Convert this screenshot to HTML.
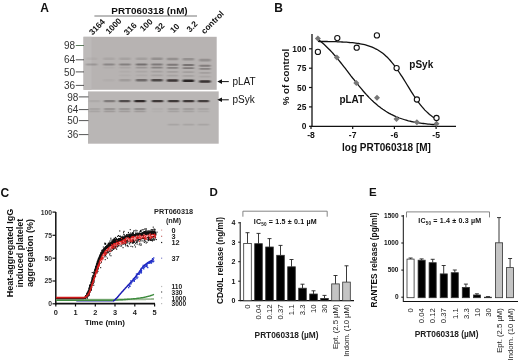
<!DOCTYPE html>
<html><head><meta charset="utf-8"><style>
html,body{margin:0;padding:0;background:#fff;}
svg{display:block;filter:blur(0.35px);}
text{font-family:"Liberation Sans",sans-serif;}
</style></head><body>
<svg width="520" height="364" viewBox="0 0 520 364">
<rect width="520" height="364" fill="#fff"/>
<text x="40.3" y="11.8" font-size="12" font-weight="bold" text-anchor="start" fill="#111">A</text>
<text x="149.5" y="13.6" font-size="9.9" font-weight="bold" text-anchor="middle" fill="#111">PRT060318 (nM)</text>
<line x1="94.4" y1="16" x2="197" y2="16" stroke="#777" stroke-width="1"/>
<text x="92.4" y="35.5" font-size="8.4" font-weight="bold" text-anchor="start" fill="#111" transform="rotate(-45 92.4 35.5)">3164</text>
<text x="109.0" y="34.7" font-size="8.4" font-weight="bold" text-anchor="start" fill="#111" transform="rotate(-45 109.0 34.7)">1000</text>
<text x="127.3" y="35.8" font-size="8.4" font-weight="bold" text-anchor="start" fill="#111" transform="rotate(-45 127.3 35.8)">316</text>
<text x="143.3" y="32.1" font-size="8.4" font-weight="bold" text-anchor="start" fill="#111" transform="rotate(-45 143.3 32.1)">100</text>
<text x="158.4" y="32.8" font-size="8.4" font-weight="bold" text-anchor="start" fill="#111" transform="rotate(-45 158.4 32.8)">32</text>
<text x="173.4" y="33.6" font-size="8.4" font-weight="bold" text-anchor="start" fill="#111" transform="rotate(-45 173.4 33.6)">10</text>
<text x="189.9" y="32.8" font-size="8.4" font-weight="bold" text-anchor="start" fill="#111" transform="rotate(-45 189.9 32.8)">3.2</text>
<text x="204.4" y="34.4" font-size="8.4" font-weight="bold" text-anchor="start" fill="#111" transform="rotate(-45 204.4 34.4)">control</text>
<defs><filter id="bl" x="-20%" y="-100%" width="140%" height="300%"><feGaussianBlur stdDeviation="1.0 0.55"/></filter><filter id="bl2" x="-20%" y="-100%" width="140%" height="300%"><feGaussianBlur stdDeviation="1.2 0.9"/></filter></defs>
<rect x="83.5" y="36.8" width="133.2" height="53" fill="#b7b3b2"/>
<rect x="83.5" y="36.8" width="8" height="53" fill="#bdbab9"/>
<rect x="88" y="91.4" width="130.7" height="52.3" fill="#b9b6b5"/>
<rect x="85.8" y="57.5" width="11.5" height="2.6" rx="1" fill="#1a1616" opacity="0.04" filter="url(#bl)"/>
<rect x="103.2" y="57.5" width="11.5" height="2.6" rx="1" fill="#1a1616" opacity="0.08" filter="url(#bl)"/>
<rect x="119.2" y="57.5" width="11.5" height="2.6" rx="1" fill="#1a1616" opacity="0.1" filter="url(#bl)"/>
<rect x="135.8" y="57.5" width="11.5" height="2.6" rx="1" fill="#1a1616" opacity="0.12" filter="url(#bl)"/>
<rect x="151.2" y="57.5" width="11.5" height="2.6" rx="1" fill="#1a1616" opacity="0.22" filter="url(#bl)"/>
<rect x="166.8" y="57.7" width="11.5" height="2.6" rx="1" fill="#1a1616" opacity="0.22" filter="url(#bl)"/>
<rect x="182.6" y="58.0" width="11.5" height="2.6" rx="1" fill="#1a1616" opacity="0.22" filter="url(#bl)"/>
<rect x="199.2" y="58.8" width="11.5" height="2.6" rx="1" fill="#1a1616" opacity="0.22" filter="url(#bl)"/>
<rect x="85.8" y="63.5" width="11.5" height="1.9" rx="1" fill="#1a1616" opacity="0.18" filter="url(#bl)"/>
<rect x="103.2" y="63.5" width="11.5" height="1.9" rx="1" fill="#1a1616" opacity="0.28" filter="url(#bl)"/>
<rect x="119.2" y="63.5" width="11.5" height="1.9" rx="1" fill="#1a1616" opacity="0.32" filter="url(#bl)"/>
<rect x="135.8" y="63.5" width="11.5" height="1.9" rx="1" fill="#1a1616" opacity="0.42" filter="url(#bl)"/>
<rect x="151.2" y="63.5" width="11.5" height="1.9" rx="1" fill="#1a1616" opacity="0.36" filter="url(#bl)"/>
<rect x="166.8" y="63.8" width="11.5" height="1.9" rx="1" fill="#1a1616" opacity="0.36" filter="url(#bl)"/>
<rect x="182.6" y="64.0" width="11.5" height="1.9" rx="1" fill="#1a1616" opacity="0.4" filter="url(#bl)"/>
<rect x="199.2" y="64.8" width="11.5" height="1.9" rx="1" fill="#1a1616" opacity="0.34" filter="url(#bl)"/>
<rect x="103.2" y="66.8" width="11.5" height="1.7" rx="1" fill="#1a1616" opacity="0.04" filter="url(#bl)"/>
<rect x="119.2" y="66.8" width="11.5" height="1.7" rx="1" fill="#1a1616" opacity="0.08" filter="url(#bl)"/>
<rect x="135.8" y="66.8" width="11.5" height="1.7" rx="1" fill="#1a1616" opacity="0.18" filter="url(#bl)"/>
<rect x="151.2" y="66.8" width="11.5" height="1.7" rx="1" fill="#1a1616" opacity="0.3" filter="url(#bl)"/>
<rect x="166.8" y="67.0" width="11.5" height="1.7" rx="1" fill="#1a1616" opacity="0.3" filter="url(#bl)"/>
<rect x="182.6" y="67.2" width="11.5" height="1.7" rx="1" fill="#1a1616" opacity="0.35" filter="url(#bl)"/>
<rect x="199.2" y="68.0" width="11.5" height="1.7" rx="1" fill="#1a1616" opacity="0.3" filter="url(#bl)"/>
<rect x="119.2" y="70.8" width="11.5" height="1.7" rx="1" fill="#1a1616" opacity="0.04" filter="url(#bl)"/>
<rect x="135.8" y="70.8" width="11.5" height="1.7" rx="1" fill="#1a1616" opacity="0.08" filter="url(#bl)"/>
<rect x="151.2" y="70.8" width="11.5" height="1.7" rx="1" fill="#1a1616" opacity="0.12" filter="url(#bl)"/>
<rect x="166.8" y="71.0" width="11.5" height="1.7" rx="1" fill="#1a1616" opacity="0.12" filter="url(#bl)"/>
<rect x="182.6" y="71.2" width="11.5" height="1.7" rx="1" fill="#1a1616" opacity="0.12" filter="url(#bl)"/>
<rect x="199.2" y="72.0" width="11.5" height="1.7" rx="1" fill="#1a1616" opacity="0.12" filter="url(#bl)"/>
<rect x="119.2" y="74.5" width="11.5" height="1.8" rx="1" fill="#1a1616" opacity="0.03" filter="url(#bl)"/>
<rect x="135.8" y="74.5" width="11.5" height="1.8" rx="1" fill="#1a1616" opacity="0.05" filter="url(#bl)"/>
<rect x="151.2" y="74.5" width="11.5" height="1.8" rx="1" fill="#1a1616" opacity="0.1" filter="url(#bl)"/>
<rect x="166.8" y="74.7" width="11.5" height="1.8" rx="1" fill="#1a1616" opacity="0.1" filter="url(#bl)"/>
<rect x="182.6" y="75.0" width="11.5" height="1.8" rx="1" fill="#1a1616" opacity="0.1" filter="url(#bl)"/>
<rect x="199.2" y="75.8" width="11.5" height="1.8" rx="1" fill="#1a1616" opacity="0.08" filter="url(#bl)"/>
<rect x="103.2" y="79.0" width="11.5" height="2.5" rx="1" fill="#1a1616" opacity="0.03" filter="url(#bl)"/>
<rect x="119.2" y="79.0" width="11.5" height="2.5" rx="1" fill="#1a1616" opacity="0.14" filter="url(#bl)"/>
<rect x="135.8" y="79.0" width="11.5" height="2.5" rx="1" fill="#1a1616" opacity="0.45" filter="url(#bl)"/>
<rect x="151.2" y="79.0" width="11.5" height="2.5" rx="1" fill="#1a1616" opacity="0.68" filter="url(#bl)"/>
<rect x="166.8" y="79.2" width="11.5" height="2.5" rx="1" fill="#1a1616" opacity="0.78" filter="url(#bl)"/>
<rect x="182.6" y="79.5" width="11.5" height="2.5" rx="1" fill="#1a1616" opacity="0.9" filter="url(#bl)"/>
<rect x="199.2" y="80.3" width="11.5" height="2.5" rx="1" fill="#1a1616" opacity="0.8" filter="url(#bl)"/>
<rect x="88.8" y="99.9" width="11.5" height="2.4" rx="1" fill="#1a1616" opacity="0.07" filter="url(#bl)"/>
<rect x="103.8" y="99.9" width="11.5" height="2.4" rx="1" fill="#1a1616" opacity="0.36" filter="url(#bl)"/>
<rect x="118.8" y="99.9" width="11.5" height="2.4" rx="1" fill="#1a1616" opacity="0.66" filter="url(#bl)"/>
<rect x="134.2" y="99.9" width="11.5" height="2.4" rx="1" fill="#1a1616" opacity="0.88" filter="url(#bl)"/>
<rect x="151.8" y="99.9" width="11.5" height="2.4" rx="1" fill="#1a1616" opacity="0.78" filter="url(#bl)"/>
<rect x="167.8" y="99.9" width="11.5" height="2.4" rx="1" fill="#1a1616" opacity="0.78" filter="url(#bl)"/>
<rect x="182.8" y="99.9" width="11.5" height="2.4" rx="1" fill="#1a1616" opacity="0.78" filter="url(#bl)"/>
<rect x="197.6" y="99.9" width="11.5" height="2.4" rx="1" fill="#1a1616" opacity="0.74" filter="url(#bl)"/>
<rect x="88.8" y="108.0" width="11.5" height="1.9" rx="1" fill="#1a1616" opacity="0.1" filter="url(#bl)"/>
<rect x="103.8" y="108.0" width="11.5" height="1.9" rx="1" fill="#1a1616" opacity="0.2" filter="url(#bl)"/>
<rect x="118.8" y="108.0" width="11.5" height="1.9" rx="1" fill="#1a1616" opacity="0.18" filter="url(#bl)"/>
<rect x="134.2" y="108.0" width="11.5" height="1.9" rx="1" fill="#1a1616" opacity="0.25" filter="url(#bl)"/>
<rect x="151.8" y="108.0" width="11.5" height="1.9" rx="1" fill="#1a1616" opacity="0.04" filter="url(#bl)"/>
<rect x="167.8" y="108.0" width="11.5" height="1.9" rx="1" fill="#1a1616" opacity="0.15" filter="url(#bl)"/>
<rect x="182.8" y="108.0" width="11.5" height="1.9" rx="1" fill="#1a1616" opacity="0.15" filter="url(#bl)"/>
<rect x="197.6" y="108.0" width="11.5" height="1.9" rx="1" fill="#1a1616" opacity="0.1" filter="url(#bl)"/>
<rect x="88.8" y="110.6" width="11.5" height="1.7" rx="1" fill="#1a1616" opacity="0.1" filter="url(#bl)"/>
<rect x="103.8" y="110.6" width="11.5" height="1.7" rx="1" fill="#1a1616" opacity="0.16" filter="url(#bl)"/>
<rect x="118.8" y="110.6" width="11.5" height="1.7" rx="1" fill="#1a1616" opacity="0.15" filter="url(#bl)"/>
<rect x="134.2" y="110.6" width="11.5" height="1.7" rx="1" fill="#1a1616" opacity="0.16" filter="url(#bl)"/>
<rect x="151.8" y="110.6" width="11.5" height="1.7" rx="1" fill="#1a1616" opacity="0.03" filter="url(#bl)"/>
<rect x="167.8" y="110.6" width="11.5" height="1.7" rx="1" fill="#1a1616" opacity="0.12" filter="url(#bl)"/>
<rect x="182.8" y="110.6" width="11.5" height="1.7" rx="1" fill="#1a1616" opacity="0.12" filter="url(#bl)"/>
<rect x="197.6" y="110.6" width="11.5" height="1.7" rx="1" fill="#1a1616" opacity="0.07" filter="url(#bl)"/>
<rect x="167.8" y="123.8" width="11.5" height="1.8" rx="1" fill="#1a1616" opacity="0.1" filter="url(#bl)"/>
<rect x="182.8" y="123.8" width="11.5" height="1.8" rx="1" fill="#1a1616" opacity="0.1" filter="url(#bl)"/>
<rect x="197.6" y="123.8" width="11.5" height="1.8" rx="1" fill="#1a1616" opacity="0.1" filter="url(#bl)"/>
<text x="75.2" y="49.1" font-size="10" font-weight="normal" text-anchor="end" fill="#333">98</text>
<line x1="75.8" y1="45.5" x2="84" y2="45.5" stroke="#5b7a5b" stroke-width="1"/>
<text x="75.2" y="63.4" font-size="10" font-weight="normal" text-anchor="end" fill="#333">64</text>
<line x1="75.8" y1="59.8" x2="84" y2="59.8" stroke="#555" stroke-width="1"/>
<text x="75.2" y="75.5" font-size="10" font-weight="normal" text-anchor="end" fill="#333">50</text>
<line x1="75.8" y1="71.9" x2="84" y2="71.9" stroke="#555" stroke-width="1"/>
<text x="75.2" y="89.0" font-size="10" font-weight="normal" text-anchor="end" fill="#333">36</text>
<line x1="75.8" y1="85.4" x2="84" y2="85.4" stroke="#555" stroke-width="1"/>
<text x="78.3" y="100.5" font-size="10" font-weight="normal" text-anchor="end" fill="#333">98</text>
<line x1="78.8" y1="96.9" x2="88.5" y2="96.9" stroke="#555" stroke-width="1"/>
<text x="78.3" y="113.19999999999999" font-size="10" font-weight="normal" text-anchor="end" fill="#333">64</text>
<line x1="78.8" y1="109.6" x2="88.5" y2="109.6" stroke="#555" stroke-width="1"/>
<text x="78.3" y="124.19999999999999" font-size="10" font-weight="normal" text-anchor="end" fill="#333">50</text>
<line x1="78.8" y1="120.6" x2="88.5" y2="120.6" stroke="#555" stroke-width="1"/>
<text x="78.3" y="138.2" font-size="10" font-weight="normal" text-anchor="end" fill="#333">36</text>
<line x1="78.8" y1="134.6" x2="88.5" y2="134.6" stroke="#555" stroke-width="1"/>
<line x1="219" y1="81.6" x2="228.8" y2="81.6" stroke="#111" stroke-width="1"/>
<path d="M217.3 81.6 L222 79.3 L222 83.89999999999999 Z" fill="#111"/>
<text x="232.5" y="85.19999999999999" font-size="10" font-weight="normal" text-anchor="start" fill="#111">pLAT</text>
<line x1="219" y1="99.8" x2="228.8" y2="99.8" stroke="#111" stroke-width="1"/>
<path d="M217.3 99.8 L222 97.5 L222 102.1 Z" fill="#111"/>
<text x="232.5" y="103.39999999999999" font-size="10" font-weight="normal" text-anchor="start" fill="#111">pSyk</text>
<text x="274.2" y="11.7" font-size="12" font-weight="bold" text-anchor="start" fill="#111">B</text>
<line x1="312" y1="34" x2="312" y2="126.3" stroke="#111" stroke-width="1.3"/>
<line x1="311.5" y1="126.4" x2="456" y2="126.4" stroke="#111" stroke-width="1.3"/>
<line x1="309" y1="126.3" x2="312" y2="126.3" stroke="#111" stroke-width="1.2"/>
<text x="306.3" y="129.4" font-size="8.4" font-weight="bold" text-anchor="end" fill="#111">0</text>
<line x1="309" y1="106.9" x2="312" y2="106.9" stroke="#111" stroke-width="1.2"/>
<text x="306.3" y="110.02499999999999" font-size="8.4" font-weight="bold" text-anchor="end" fill="#111">25</text>
<line x1="309" y1="87.5" x2="312" y2="87.5" stroke="#111" stroke-width="1.2"/>
<text x="306.3" y="90.64999999999999" font-size="8.4" font-weight="bold" text-anchor="end" fill="#111">50</text>
<line x1="309" y1="68.2" x2="312" y2="68.2" stroke="#111" stroke-width="1.2"/>
<text x="306.3" y="71.27499999999999" font-size="8.4" font-weight="bold" text-anchor="end" fill="#111">75</text>
<line x1="309" y1="48.8" x2="312" y2="48.8" stroke="#111" stroke-width="1.2"/>
<text x="306.3" y="51.9" font-size="8.4" font-weight="bold" text-anchor="end" fill="#111">100</text>
<line x1="311.0" y1="126" x2="311.0" y2="129" stroke="#111" stroke-width="1.2"/>
<text x="311.0" y="137.6" font-size="8.6" font-weight="bold" text-anchor="middle" fill="#111">-8</text>
<line x1="352.7" y1="126" x2="352.7" y2="129" stroke="#111" stroke-width="1.2"/>
<text x="352.7" y="137.6" font-size="8.6" font-weight="bold" text-anchor="middle" fill="#111">-7</text>
<line x1="394.4" y1="126" x2="394.4" y2="129" stroke="#111" stroke-width="1.2"/>
<text x="394.4" y="137.6" font-size="8.6" font-weight="bold" text-anchor="middle" fill="#111">-6</text>
<line x1="436.1" y1="126" x2="436.1" y2="129" stroke="#111" stroke-width="1.2"/>
<text x="436.1" y="137.6" font-size="8.6" font-weight="bold" text-anchor="middle" fill="#111">-5</text>
<text x="386.5" y="151" font-size="10" font-weight="bold" text-anchor="middle" fill="#111">log PRT060318 [M]</text>
<text x="289.3" y="77" font-size="9.8" font-weight="bold" text-anchor="middle" fill="#111" transform="rotate(-90 289.3 77)">% of control</text>
<text x="339.4" y="103" font-size="10" font-weight="bold" text-anchor="start" fill="#111">pLAT</text>
<text x="409.3" y="68.3" font-size="10" font-weight="bold" text-anchor="start" fill="#111">pSyk</text>
<polyline fill="none" stroke="#111" stroke-width="1.3" points="318.0,39.2 319.5,40.4 321.0,41.7 322.5,43.0 324.0,44.3 325.5,45.7 327.0,47.2 328.5,48.7 330.1,50.3 331.6,51.9 333.1,53.5 334.6,55.3 336.1,57.0 337.6,58.8 339.1,60.6 340.6,62.5 342.1,64.4 343.6,66.3 345.1,68.2 346.6,70.2 348.1,72.1 349.6,74.1 351.1,76.1 352.6,78.0 354.2,79.9 355.7,81.8 357.2,83.7 358.7,85.6 360.2,87.4 361.7,89.2 363.2,91.0 364.7,92.7 366.2,94.4 367.7,96.0 369.2,97.6 370.7,99.1 372.2,100.6 373.7,102.0 375.2,103.3 376.7,104.6 378.3,105.9 379.8,107.0 381.3,108.2 382.8,109.3 384.3,110.3 385.8,111.3 387.3,112.2 388.8,113.1 390.3,113.9 391.8,114.7 393.3,115.4 394.8,116.1 396.3,116.8 397.8,117.4 399.3,118.0 400.8,118.5 402.4,119.0 403.9,119.5 405.4,120.0 406.9,120.4 408.4,120.8 409.9,121.1 411.4,121.5 412.9,121.8 414.4,122.1 415.9,122.4 417.4,122.7 418.9,122.9 420.4,123.1 421.9,123.3 423.4,123.5 424.9,123.7 426.5,123.9 428.0,124.1 429.5,124.2 431.0,124.4 432.5,124.5 434.0,124.6 435.5,124.7 437.0,124.8"/>
<polyline fill="none" stroke="#111" stroke-width="1.3" points="318.0,41.4 319.5,41.5 321.0,41.5 322.5,41.5 324.0,41.5 325.5,41.5 327.0,41.5 328.5,41.6 330.1,41.6 331.6,41.6 333.1,41.7 334.6,41.7 336.1,41.7 337.6,41.8 339.1,41.8 340.6,41.9 342.1,42.0 343.6,42.1 345.1,42.1 346.6,42.2 348.1,42.3 349.6,42.5 351.1,42.6 352.6,42.7 354.2,42.9 355.7,43.1 357.2,43.3 358.7,43.5 360.2,43.8 361.7,44.1 363.2,44.4 364.7,44.7 366.2,45.1 367.7,45.6 369.2,46.1 370.7,46.6 372.2,47.2 373.7,47.8 375.2,48.6 376.7,49.3 378.3,50.2 379.8,51.2 381.3,52.2 382.8,53.3 384.3,54.6 385.8,55.9 387.3,57.3 388.8,58.9 390.3,60.5 391.8,62.3 393.3,64.1 394.8,66.1 396.3,68.1 397.8,70.3 399.3,72.5 400.8,74.8 402.4,77.2 403.9,79.6 405.4,82.0 406.9,84.5 408.4,86.9 409.9,89.4 411.4,91.8 412.9,94.2 414.4,96.5 415.9,98.7 417.4,100.8 418.9,102.9 420.4,104.8 421.9,106.7 423.4,108.4 424.9,110.1 426.5,111.6 428.0,113.0 429.5,114.4 431.0,115.6 432.5,116.7 434.0,117.7 435.5,118.7 437.0,119.5"/>
<path d="M317.9 35.5 L320.9 38.5 L317.9 41.5 L314.9 38.5 Z" fill="#777"/>
<path d="M336.9 54.6 L339.9 57.6 L336.9 60.6 L333.9 57.6 Z" fill="#777"/>
<path d="M356.3 80 L359.3 83 L356.3 86 L353.3 83 Z" fill="#777"/>
<path d="M377 94.8 L380 97.8 L377 100.8 L374 97.8 Z" fill="#777"/>
<path d="M396.5 116 L399.5 119 L396.5 122 L393.5 119 Z" fill="#777"/>
<path d="M416.9 119.2 L419.9 122.2 L416.9 125.2 L413.9 122.2 Z" fill="#777"/>
<path d="M436.5 120.7 L439.5 123.7 L436.5 126.7 L433.5 123.7 Z" fill="#777"/>
<circle cx="317.9" cy="51.9" r="2.6" fill="#fff" stroke="#111" stroke-width="1.1"/>
<circle cx="337.3" cy="38.1" r="2.6" fill="#fff" stroke="#111" stroke-width="1.1"/>
<circle cx="356.7" cy="47.7" r="2.6" fill="#fff" stroke="#111" stroke-width="1.1"/>
<circle cx="376.9" cy="35.4" r="2.6" fill="#fff" stroke="#111" stroke-width="1.1"/>
<circle cx="396.6" cy="68.1" r="2.6" fill="#fff" stroke="#111" stroke-width="1.1"/>
<circle cx="416.9" cy="99.5" r="2.6" fill="#fff" stroke="#111" stroke-width="1.1"/>
<circle cx="436.5" cy="118" r="2.6" fill="#fff" stroke="#111" stroke-width="1.1"/>
<text x="0.4" y="197.2" font-size="12" font-weight="bold" text-anchor="start" fill="#111">C</text>
<text x="13.3" y="253" font-size="9" font-weight="bold" text-anchor="middle" fill="#111" transform="rotate(-90 13.3 253)">Heat-aggregated IgG</text>
<text x="22.8" y="253" font-size="9" font-weight="bold" text-anchor="middle" fill="#111" transform="rotate(-90 22.8 253)">induced platelet</text>
<text x="32.5" y="253" font-size="9" font-weight="bold" text-anchor="middle" fill="#111" transform="rotate(-90 32.5 253)">aggregation (%)</text>
<line x1="55.8" y1="212" x2="55.8" y2="304.5" stroke="#111" stroke-width="1.5"/>
<line x1="55" y1="303.7" x2="155" y2="303.7" stroke="#111" stroke-width="1.8"/>
<line x1="52.5" y1="212.1" x2="55.8" y2="212.1" stroke="#111" stroke-width="1.2"/>
<text x="52" y="214.5" font-size="6.8" font-weight="bold" text-anchor="end" fill="#333">100</text>
<line x1="52.5" y1="235.3" x2="55.8" y2="235.3" stroke="#111" stroke-width="1.2"/>
<text x="52" y="237.70000000000002" font-size="6.8" font-weight="bold" text-anchor="end" fill="#333">75</text>
<line x1="52.5" y1="258.2" x2="55.8" y2="258.2" stroke="#111" stroke-width="1.2"/>
<text x="52" y="260.59999999999997" font-size="6.8" font-weight="bold" text-anchor="end" fill="#333">50</text>
<line x1="52.5" y1="281" x2="55.8" y2="281" stroke="#111" stroke-width="1.2"/>
<text x="52" y="283.4" font-size="6.8" font-weight="bold" text-anchor="end" fill="#333">25</text>
<line x1="52.5" y1="303.8" x2="55.8" y2="303.8" stroke="#111" stroke-width="1.2"/>
<text x="52" y="306.2" font-size="6.8" font-weight="bold" text-anchor="end" fill="#333">0</text>
<line x1="55.8" y1="303.8" x2="55.8" y2="306.5" stroke="#111" stroke-width="1.2"/>
<text x="55.8" y="315.2" font-size="7.4" font-weight="bold" text-anchor="middle" fill="#222">0</text>
<line x1="75.5" y1="303.8" x2="75.5" y2="306.5" stroke="#111" stroke-width="1.2"/>
<text x="75.55" y="315.2" font-size="7.4" font-weight="bold" text-anchor="middle" fill="#222">1</text>
<line x1="95.3" y1="303.8" x2="95.3" y2="306.5" stroke="#111" stroke-width="1.2"/>
<text x="95.3" y="315.2" font-size="7.4" font-weight="bold" text-anchor="middle" fill="#222">2</text>
<line x1="115.0" y1="303.8" x2="115.0" y2="306.5" stroke="#111" stroke-width="1.2"/>
<text x="115.05" y="315.2" font-size="7.4" font-weight="bold" text-anchor="middle" fill="#222">3</text>
<line x1="134.8" y1="303.8" x2="134.8" y2="306.5" stroke="#111" stroke-width="1.2"/>
<text x="134.8" y="315.2" font-size="7.4" font-weight="bold" text-anchor="middle" fill="#222">4</text>
<line x1="154.6" y1="303.8" x2="154.6" y2="306.5" stroke="#111" stroke-width="1.2"/>
<text x="154.55" y="315.2" font-size="7.4" font-weight="bold" text-anchor="middle" fill="#222">5</text>
<text x="104.8" y="325" font-size="8" font-weight="bold" text-anchor="middle" fill="#111">Time (min)</text>
<polyline fill="none" stroke="#2a2aa8" stroke-width="1.3" stroke-linejoin="round" points="76.3,300.9 76.6,300.9 76.9,300.9 77.3,300.9 77.6,300.9 77.9,300.9 78.2,300.9 78.6,300.9 78.9,300.9 79.2,300.9 79.6,300.9 79.9,300.9 80.2,300.9 80.5,300.9 80.9,300.9 81.2,300.9 81.5,300.9 81.8,300.9 82.2,300.9 82.5,300.9 82.8,300.9 83.1,300.9 83.5,300.9 83.8,300.9 84.1,300.9 84.5,300.9 84.8,300.9 85.1,300.9 85.4,300.9 85.8,300.9 86.1,300.9 86.4,300.9 86.7,300.9 87.1,300.9 87.4,300.9 87.7,300.9 88.1,300.9 88.4,300.9 88.7,300.9 89.0,300.9 89.4,300.9 89.7,300.9 90.0,300.9 90.3,300.9 90.7,300.9 91.0,300.9 91.3,300.9 91.7,300.9 92.0,300.9 92.3,300.9 92.6,300.9 93.0,300.9 93.3,300.9 93.6,300.9 93.9,300.9 94.3,300.9 94.6,300.9 94.9,300.9 95.3,300.9 95.6,300.9 95.9,300.9 96.2,300.9 96.6,300.9 96.9,300.9 97.2,300.9 97.5,300.9 97.9,300.9 98.2,300.9 98.5,300.9 98.8,300.9 99.2,300.9 99.5,300.9 99.8,300.9 100.2,300.9 100.5,300.9 100.8,300.8 101.1,300.8 101.5,300.8 101.8,300.8 102.1,300.8 102.4,300.8 102.8,300.8 103.1,300.8 103.4,300.8 103.8,300.8 104.1,300.8 104.4,300.8 104.7,300.8 105.1,300.8 105.4,300.8 105.7,300.8 106.0,300.8 106.4,300.8 106.7,300.8 107.0,300.8 107.4,300.8 107.7,300.8 108.0,300.8 108.3,300.8 108.7,300.8 109.0,300.8 109.3,300.8 109.6,300.8 110.0,300.8 110.3,300.8 110.6,300.8 111.0,300.8 111.3,300.8 111.6,300.8 111.9,300.8 112.3,300.8 112.6,300.8 112.9,300.8 113.2,300.8 113.6,300.7 113.9,300.5 114.2,300.3 114.5,300.0 114.9,299.7 115.2,299.4 115.5,299.1 115.9,298.8"/>
<polyline fill="none" stroke="#9fbc98" stroke-width="1.9" stroke-linejoin="round" points="56.0,299.7 56.5,299.7 57.0,299.7 57.5,299.7 58.0,299.7 58.5,299.7 59.0,299.7 59.4,299.7 59.9,299.7 60.4,299.7 60.9,299.7 61.4,299.7 61.9,299.7 62.4,299.7 62.9,299.7 63.4,299.7 63.9,299.7 64.4,299.7 64.9,299.7 65.4,299.7 65.8,299.7 66.3,299.7 66.8,299.7 67.3,299.7 67.8,299.7 68.3,299.7 68.8,299.7 69.3,299.7 69.8,299.7 70.3,299.7 70.8,299.7 71.3,299.7 71.8,299.7 72.3,299.7 72.7,299.7 73.2,299.7 73.7,299.7 74.2,299.7 74.7,299.7 75.2,299.7 75.7,299.7 76.2,299.7 76.7,299.7 77.2,299.7 77.7,299.7 78.2,299.7 78.7,299.7 79.1,299.7 79.6,299.7 80.1,299.7 80.6,299.7 81.1,299.7 81.6,299.7 82.1,299.7 82.6,299.7 83.1,299.7 83.6,299.7 84.1,299.7 84.6,299.7 85.1,299.7 85.5,299.7 86.0,299.7 86.5,299.7 87.0,299.7 87.5,299.7 88.0,299.7 88.5,299.7 89.0,299.7 89.5,299.7 90.0,299.7 90.5,299.7 91.0,299.7 91.5,299.7 91.9,299.7 92.4,299.7 92.9,299.7 93.4,299.6 93.9,299.6 94.4,299.6 94.9,299.6 95.4,299.6 95.9,299.6 96.4,299.6 96.9,299.6 97.4,299.6 97.9,299.6 98.4,299.6 98.8,299.6 99.3,299.6 99.8,299.6 100.3,299.6 100.8,299.6 101.3,299.6 101.8,299.6 102.3,299.6 102.8,299.6 103.3,299.6 103.8,299.6 104.3,299.6 104.8,299.6 105.2,299.6 105.7,299.6 106.2,299.6 106.7,299.6 107.2,299.6 107.7,299.6 108.2,299.6 108.7,299.6 109.2,299.6 109.7,299.6 110.2,299.6 110.7,299.6 111.2,299.6 111.6,299.6 112.1,299.6 112.6,299.6 113.1,299.6 113.6,299.6 114.1,299.6 114.6,299.6 115.1,299.6 115.6,299.6 116.1,299.6 116.6,299.6 117.1,299.6 117.6,299.6 118.1,299.6 118.5,299.5 119.0,299.5 119.5,299.5 120.0,299.5 120.5,299.5 121.0,299.5 121.5,299.5 122.0,299.5 122.5,299.5 123.0,299.5 123.5,299.5 124.0,299.5 124.5,299.5 124.9,299.5 125.4,299.5 125.9,299.5 126.4,299.5 126.9,299.5 127.4,299.5 127.9,299.4 128.4,299.4 128.9,299.4 129.4,299.4 129.9,299.4 130.4,299.4 130.9,299.4 131.3,299.4 131.8,299.4 132.3,299.4 132.8,299.4 133.3,299.4 133.8,299.4 134.3,299.4 134.8,299.3 135.3,299.3 135.8,299.3 136.3,299.3 136.8,299.3 137.3,299.3 137.7,299.3 138.2,299.3 138.7,299.3 139.2,299.3 139.7,299.3 140.2,299.3 140.7,299.2 141.2,299.2 141.7,299.2 142.2,299.2 142.7,299.2 143.2,299.2 143.7,299.2 144.2,299.2 144.6,299.2 145.1,299.2 145.6,299.2 146.1,299.1 146.6,299.1 147.1,299.1 147.6,299.1 148.1,299.1 148.6,299.1 149.1,299.1 149.6,299.1 150.1,299.1 150.6,299.1 151.0,299.1 151.5,299.0 152.0,299.0 152.5,299.0 153.0,299.0 153.5,299.0 154.0,299.0"/>
<polyline fill="none" stroke="#3f8c3f" stroke-width="1.4" stroke-linejoin="round" points="56.0,300.4 56.5,300.4 57.0,300.4 57.5,300.4 58.0,300.4 58.5,300.4 59.0,300.4 59.4,300.4 59.9,300.4 60.4,300.4 60.9,300.4 61.4,300.4 61.9,300.4 62.4,300.4 62.9,300.4 63.4,300.4 63.9,300.4 64.4,300.4 64.9,300.4 65.4,300.4 65.8,300.4 66.3,300.4 66.8,300.4 67.3,300.4 67.8,300.4 68.3,300.4 68.8,300.4 69.3,300.4 69.8,300.4 70.3,300.4 70.8,300.4 71.3,300.4 71.8,300.4 72.3,300.4 72.7,300.4 73.2,300.4 73.7,300.4 74.2,300.4 74.7,300.4 75.2,300.4 75.7,300.4 76.2,300.4 76.7,300.4 77.2,300.4 77.7,300.4 78.2,300.4 78.7,300.4 79.1,300.4 79.6,300.4 80.1,300.4 80.6,300.4 81.1,300.4 81.6,300.4 82.1,300.4 82.6,300.4 83.1,300.4 83.6,300.4 84.1,300.4 84.6,300.4 85.1,300.4 85.5,300.4 86.0,300.4 86.5,300.3 87.0,300.3 87.5,300.3 88.0,300.3 88.5,300.3 89.0,300.3 89.5,300.3 90.0,300.3 90.5,300.3 91.0,300.3 91.5,300.3 91.9,300.3 92.4,300.3 92.9,300.3 93.4,300.3 93.9,300.3 94.4,300.3 94.9,300.3 95.4,300.3 95.9,300.3 96.4,300.3 96.9,300.3 97.4,300.3 97.9,300.3 98.4,300.3 98.8,300.3 99.3,300.3 99.8,300.3 100.3,300.3 100.8,300.3 101.3,300.3 101.8,300.3 102.3,300.3 102.8,300.3 103.3,300.3 103.8,300.3 104.3,300.3 104.8,300.3 105.2,300.3 105.7,300.2 106.2,300.2 106.7,300.2 107.2,300.2 107.7,300.2 108.2,300.2 108.7,300.2 109.2,300.2 109.7,300.2 110.2,300.2 110.7,300.2 111.2,300.2 111.6,300.2 112.1,300.2 112.6,300.2 113.1,300.2 113.6,300.2 114.1,300.2 114.6,300.1 115.1,300.1 115.6,300.1 116.1,300.1 116.6,300.1 117.1,300.0 117.6,300.0 118.1,300.0 118.5,299.9 119.0,299.9 119.5,299.9 120.0,299.8 120.5,299.8 121.0,299.8 121.5,299.7 122.0,299.7 122.5,299.7 123.0,299.6 123.5,299.6 124.0,299.6 124.5,299.5 124.9,299.5 125.4,299.5 125.9,299.4 126.4,299.4 126.9,299.4 127.4,299.3 127.9,299.3 128.4,299.3 128.9,299.2 129.4,299.2 129.9,299.1 130.4,299.1 130.9,299.1 131.3,299.0 131.8,299.0 132.3,298.9 132.8,298.9 133.3,298.8 133.8,298.8 134.3,298.7 134.8,298.7 135.3,298.6 135.8,298.6 136.3,298.5 136.8,298.5 137.3,298.4 137.7,298.3 138.2,298.3 138.7,298.2 139.2,298.1 139.7,298.1 140.2,298.0 140.7,297.9 141.2,297.8 141.7,297.7 142.2,297.7 142.7,297.6 143.2,297.5 143.7,297.4 144.2,297.3 144.6,297.2 145.1,297.1 145.6,297.0 146.1,296.8 146.6,296.7 147.1,296.6 147.6,296.5 148.1,296.4 148.6,296.2 149.1,296.1 149.6,296.0 150.1,295.8 150.6,295.7 151.0,295.5 151.5,295.3 152.0,295.1 152.5,295.0 153.0,294.8 153.5,294.6 154.0,294.4"/>
<polyline fill="none" stroke="#1c1cb4" stroke-width="1.5" stroke-linejoin="round" points="113.2,300.9 113.6,300.8 113.9,300.6 114.2,300.4 114.5,300.1 114.9,299.8 115.2,299.5 115.5,299.2 115.9,298.9 116.2,298.6 116.5,298.3 116.8,298.0 117.2,297.6 117.5,297.2 117.8,296.9 118.1,296.5 118.5,296.0 118.8,295.6 119.1,295.2 119.5,294.8 119.8,294.5 120.1,294.1 120.4,293.7 120.8,293.3 121.1,293.0 121.4,292.6 121.7,292.2 122.1,291.9 122.4,291.5 122.7,291.1 123.1,290.8 123.4,290.4 123.7,290.0 124.0,289.7 124.4,289.3 124.7,289.0 125.0,288.6 125.3,288.2 125.7,287.9 126.0,287.5 126.3,287.2 126.7,286.8 127.0,286.5 127.3,286.1 127.6,285.8 128.0,285.4 128.3,285.1 128.6,284.7 128.9,284.4 129.3,284.0 129.6,283.7 129.9,283.3 130.2,283.0 130.6,282.6 130.9,282.2 131.2,281.9 131.6,281.5 131.9,281.1 132.2,280.8 132.5,280.4 132.9,280.0 133.2,279.6 133.5,279.2 133.8,278.8 134.2,278.4 134.5,278.0 134.8,277.6 135.2,277.2 135.5,276.8 135.8,276.4 136.1,276.0 136.5,275.6 136.8,275.2 137.1,274.7 137.4,274.3 137.8,273.9 138.1,273.5 138.4,273.1 138.8,272.6 139.1,272.2 139.4,271.7 139.7,271.3 140.1,270.8 140.4,270.3 140.7,269.8 141.0,269.4 141.4,268.9 141.7,268.4 142.0,268.0 142.4,267.6 142.7,267.2 143.0,266.8 143.3,266.5 143.7,266.1 144.0,265.8 144.3,265.5 144.6,265.2 145.0,264.9 145.3,264.7 145.6,264.4 145.9,264.1 146.3,263.9 146.6,263.6 146.9,263.4 147.3,263.2 147.6,262.9 147.9,262.7 148.2,262.5 148.6,262.3 148.9,262.1 149.2,261.9 149.5,261.7 149.9,261.5 150.2,261.3 150.5,261.1 150.9,260.9 151.2,260.7 151.5,260.5 151.8,260.3 152.2,260.2 152.5,260.0 152.8,259.8 153.1,259.7 153.5,259.5 153.8,259.4"/>
<rect x="130.2" y="280.2" width="1.3" height="1.3" fill="#2233cc"/>
<rect x="148.8" y="261.5" width="1.3" height="1.3" fill="#2233cc"/>
<rect x="130.4" y="282.5" width="1.3" height="1.3" fill="#2233cc"/>
<rect x="140.5" y="270.0" width="1.3" height="1.3" fill="#2233cc"/>
<rect x="147.1" y="266.9" width="1.3" height="1.3" fill="#2233cc"/>
<rect x="138.2" y="273.0" width="1.3" height="1.3" fill="#2233cc"/>
<rect x="139.2" y="271.3" width="1.3" height="1.3" fill="#2233cc"/>
<rect x="147.2" y="262.8" width="1.3" height="1.3" fill="#2233cc"/>
<rect x="135.4" y="276.7" width="1.3" height="1.3" fill="#2233cc"/>
<rect x="146.1" y="263.8" width="1.3" height="1.3" fill="#2233cc"/>
<rect x="128.0" y="287.0" width="1.3" height="1.3" fill="#2233cc"/>
<rect x="135.8" y="275.9" width="1.3" height="1.3" fill="#2233cc"/>
<rect x="151.2" y="261.3" width="1.3" height="1.3" fill="#2233cc"/>
<rect x="140.3" y="270.2" width="1.3" height="1.3" fill="#2233cc"/>
<rect x="128.8" y="285.6" width="1.3" height="1.3" fill="#2233cc"/>
<rect x="137.7" y="272.9" width="1.3" height="1.3" fill="#2233cc"/>
<rect x="145.2" y="265.7" width="1.3" height="1.3" fill="#2233cc"/>
<rect x="133.4" y="279.5" width="1.3" height="1.3" fill="#2233cc"/>
<rect x="135.8" y="273.4" width="1.3" height="1.3" fill="#2233cc"/>
<rect x="146.8" y="262.5" width="1.3" height="1.3" fill="#2233cc"/>
<rect x="149.6" y="261.9" width="1.3" height="1.3" fill="#2233cc"/>
<rect x="145.8" y="263.8" width="1.3" height="1.3" fill="#2233cc"/>
<rect x="139.1" y="272.1" width="1.3" height="1.3" fill="#2233cc"/>
<rect x="150.8" y="262.4" width="1.3" height="1.3" fill="#2233cc"/>
<rect x="150.1" y="261.5" width="1.3" height="1.3" fill="#2233cc"/>
<rect x="140.5" y="270.0" width="1.3" height="1.3" fill="#2233cc"/>
<rect x="146.2" y="264.6" width="1.3" height="1.3" fill="#2233cc"/>
<rect x="150.6" y="260.8" width="1.3" height="1.3" fill="#2233cc"/>
<rect x="142.6" y="267.5" width="1.3" height="1.3" fill="#2233cc"/>
<rect x="143.9" y="266.6" width="1.3" height="1.3" fill="#2233cc"/>
<rect x="132.7" y="278.4" width="1.3" height="1.3" fill="#2233cc"/>
<rect x="147.6" y="261.9" width="1.3" height="1.3" fill="#2233cc"/>
<rect x="151.9" y="258.0" width="1.3" height="1.3" fill="#2233cc"/>
<rect x="150.1" y="262.1" width="1.3" height="1.3" fill="#2233cc"/>
<rect x="153.1" y="257.3" width="1.3" height="1.3" fill="#2233cc"/>
<rect x="148.5" y="262.7" width="1.3" height="1.3" fill="#2233cc"/>
<rect x="129.4" y="285.6" width="1.3" height="1.3" fill="#2233cc"/>
<rect x="130.2" y="283.4" width="1.3" height="1.3" fill="#2233cc"/>
<rect x="133.6" y="280.7" width="1.3" height="1.3" fill="#2233cc"/>
<rect x="131.3" y="281.4" width="1.3" height="1.3" fill="#2233cc"/>
<rect x="140.8" y="271.5" width="1.3" height="1.3" fill="#2233cc"/>
<rect x="153.1" y="260.5" width="1.3" height="1.3" fill="#2233cc"/>
<rect x="133.6" y="279.6" width="1.3" height="1.3" fill="#2233cc"/>
<rect x="146.4" y="263.0" width="1.3" height="1.3" fill="#2233cc"/>
<rect x="145.7" y="265.9" width="1.3" height="1.3" fill="#2233cc"/>
<rect x="143.3" y="265.8" width="1.3" height="1.3" fill="#2233cc"/>
<rect x="145.4" y="264.8" width="1.3" height="1.3" fill="#2233cc"/>
<rect x="142.4" y="266.1" width="1.3" height="1.3" fill="#2233cc"/>
<rect x="140.9" y="269.6" width="1.3" height="1.3" fill="#2233cc"/>
<rect x="140.5" y="271.0" width="1.3" height="1.3" fill="#2233cc"/>
<rect x="148.1" y="262.2" width="1.3" height="1.3" fill="#2233cc"/>
<rect x="128.5" y="284.6" width="1.3" height="1.3" fill="#2233cc"/>
<rect x="133.3" y="278.6" width="1.3" height="1.3" fill="#2233cc"/>
<rect x="138.1" y="273.4" width="1.3" height="1.3" fill="#2233cc"/>
<rect x="151.6" y="260.7" width="1.3" height="1.3" fill="#2233cc"/>
<rect x="137.1" y="276.5" width="1.3" height="1.3" fill="#2233cc"/>
<rect x="140.5" y="267.9" width="1.3" height="1.3" fill="#2233cc"/>
<rect x="142.2" y="267.1" width="1.3" height="1.3" fill="#2233cc"/>
<rect x="142.6" y="264.7" width="1.3" height="1.3" fill="#2233cc"/>
<rect x="152.6" y="261.1" width="1.3" height="1.3" fill="#2233cc"/>
<rect x="147.3" y="262.0" width="1.3" height="1.3" fill="#2233cc"/>
<rect x="149.3" y="261.8" width="1.3" height="1.3" fill="#2233cc"/>
<rect x="140.5" y="272.4" width="1.3" height="1.3" fill="#2233cc"/>
<rect x="134.8" y="278.5" width="1.3" height="1.3" fill="#2233cc"/>
<rect x="136.3" y="277.8" width="1.3" height="1.3" fill="#2233cc"/>
<rect x="143.1" y="268.2" width="1.3" height="1.3" fill="#2233cc"/>
<rect x="139.5" y="271.4" width="1.3" height="1.3" fill="#2233cc"/>
<rect x="146.4" y="265.5" width="1.3" height="1.3" fill="#2233cc"/>
<rect x="132.4" y="280.2" width="1.3" height="1.3" fill="#2233cc"/>
<rect x="138.5" y="273.5" width="1.3" height="1.3" fill="#2233cc"/>
<line x1="86.5" y1="295.7" x2="86.7" y2="295.3" stroke="#111" stroke-width="1.7" stroke-linecap="round"/>
<line x1="87.4" y1="294.1" x2="87.7" y2="293.6" stroke="#111" stroke-width="1.8" stroke-linecap="round"/>
<line x1="88.4" y1="291.9" x2="88.7" y2="291.2" stroke="#111" stroke-width="1.9" stroke-linecap="round"/>
<line x1="89.4" y1="289.0" x2="89.6" y2="288.2" stroke="#111" stroke-width="2.0" stroke-linecap="round"/>
<line x1="90.4" y1="285.8" x2="90.6" y2="285.1" stroke="#111" stroke-width="2.1" stroke-linecap="round"/>
<line x1="91.4" y1="282.8" x2="91.6" y2="282.0" stroke="#111" stroke-width="2.2" stroke-linecap="round"/>
<line x1="92.4" y1="279.7" x2="92.6" y2="278.9" stroke="#111" stroke-width="2.3" stroke-linecap="round"/>
<line x1="93.3" y1="276.5" x2="93.6" y2="275.8" stroke="#111" stroke-width="2.3" stroke-linecap="round"/>
<line x1="94.3" y1="273.4" x2="94.6" y2="272.6" stroke="#111" stroke-width="2.4" stroke-linecap="round"/>
<line x1="95.3" y1="270.2" x2="95.5" y2="269.5" stroke="#111" stroke-width="2.6" stroke-linecap="round"/>
<line x1="96.3" y1="267.3" x2="96.5" y2="266.6" stroke="#111" stroke-width="2.8" stroke-linecap="round"/>
<line x1="97.3" y1="264.5" x2="97.5" y2="263.8" stroke="#111" stroke-width="3.0" stroke-linecap="round"/>
<line x1="98.2" y1="261.9" x2="98.5" y2="261.4" stroke="#111" stroke-width="3.2" stroke-linecap="round"/>
<line x1="99.2" y1="259.7" x2="99.5" y2="259.1" stroke="#111" stroke-width="3.4" stroke-linecap="round"/>
<line x1="100.2" y1="257.6" x2="100.5" y2="257.1" stroke="#111" stroke-width="3.7" stroke-linecap="round"/>
<line x1="101.2" y1="255.7" x2="101.4" y2="255.3" stroke="#111" stroke-width="3.9" stroke-linecap="round"/>
<line x1="102.2" y1="254.0" x2="102.4" y2="253.6" stroke="#111" stroke-width="4.1" stroke-linecap="round"/>
<line x1="103.2" y1="252.5" x2="103.4" y2="252.1" stroke="#111" stroke-width="4.3" stroke-linecap="round"/>
<line x1="104.1" y1="251.1" x2="104.4" y2="250.7" stroke="#111" stroke-width="4.5" stroke-linecap="round"/>
<line x1="105.1" y1="249.9" x2="105.4" y2="249.6" stroke="#111" stroke-width="4.5" stroke-linecap="round"/>
<line x1="106.1" y1="248.8" x2="106.4" y2="248.5" stroke="#111" stroke-width="4.6" stroke-linecap="round"/>
<line x1="107.1" y1="247.8" x2="107.3" y2="247.6" stroke="#111" stroke-width="4.6" stroke-linecap="round"/>
<line x1="108.1" y1="247.0" x2="108.3" y2="246.8" stroke="#111" stroke-width="4.6" stroke-linecap="round"/>
<line x1="109.1" y1="246.2" x2="109.3" y2="246.0" stroke="#111" stroke-width="4.7" stroke-linecap="round"/>
<line x1="110.0" y1="245.5" x2="110.3" y2="245.3" stroke="#111" stroke-width="4.7" stroke-linecap="round"/>
<line x1="111.0" y1="244.8" x2="111.3" y2="244.7" stroke="#111" stroke-width="4.7" stroke-linecap="round"/>
<line x1="112.0" y1="244.3" x2="112.2" y2="244.1" stroke="#111" stroke-width="4.7" stroke-linecap="round"/>
<line x1="113.0" y1="243.7" x2="113.2" y2="243.6" stroke="#111" stroke-width="4.8" stroke-linecap="round"/>
<line x1="114.0" y1="243.2" x2="114.2" y2="243.1" stroke="#111" stroke-width="4.8" stroke-linecap="round"/>
<line x1="114.9" y1="242.7" x2="115.2" y2="242.6" stroke="#111" stroke-width="4.8" stroke-linecap="round"/>
<line x1="115.9" y1="242.3" x2="116.2" y2="242.1" stroke="#111" stroke-width="4.9" stroke-linecap="round"/>
<line x1="116.9" y1="241.8" x2="117.2" y2="241.7" stroke="#111" stroke-width="4.9" stroke-linecap="round"/>
<line x1="117.9" y1="241.4" x2="118.1" y2="241.3" stroke="#111" stroke-width="4.9" stroke-linecap="round"/>
<line x1="118.9" y1="241.0" x2="119.1" y2="240.9" stroke="#111" stroke-width="4.9" stroke-linecap="round"/>
<line x1="119.9" y1="240.6" x2="120.1" y2="240.5" stroke="#111" stroke-width="5.0" stroke-linecap="round"/>
<line x1="120.8" y1="240.3" x2="121.1" y2="240.2" stroke="#111" stroke-width="5.0" stroke-linecap="round"/>
<line x1="121.8" y1="239.9" x2="122.1" y2="239.9" stroke="#111" stroke-width="5.0" stroke-linecap="round"/>
<line x1="122.8" y1="239.6" x2="123.1" y2="239.6" stroke="#111" stroke-width="5.1" stroke-linecap="round"/>
<line x1="123.8" y1="239.3" x2="124.0" y2="239.3" stroke="#111" stroke-width="5.1" stroke-linecap="round"/>
<line x1="124.8" y1="239.1" x2="125.0" y2="239.0" stroke="#111" stroke-width="5.1" stroke-linecap="round"/>
<line x1="125.8" y1="238.8" x2="126.0" y2="238.7" stroke="#111" stroke-width="5.2" stroke-linecap="round"/>
<line x1="126.7" y1="238.6" x2="127.0" y2="238.5" stroke="#111" stroke-width="5.2" stroke-linecap="round"/>
<line x1="127.7" y1="238.3" x2="128.0" y2="238.3" stroke="#111" stroke-width="5.2" stroke-linecap="round"/>
<line x1="128.7" y1="238.1" x2="128.9" y2="238.0" stroke="#111" stroke-width="5.2" stroke-linecap="round"/>
<line x1="129.7" y1="237.9" x2="129.9" y2="237.8" stroke="#111" stroke-width="5.3" stroke-linecap="round"/>
<line x1="130.7" y1="237.7" x2="130.9" y2="237.6" stroke="#111" stroke-width="5.3" stroke-linecap="round"/>
<line x1="131.6" y1="237.4" x2="131.9" y2="237.4" stroke="#111" stroke-width="5.3" stroke-linecap="round"/>
<line x1="132.6" y1="237.2" x2="132.9" y2="237.2" stroke="#111" stroke-width="5.4" stroke-linecap="round"/>
<line x1="133.6" y1="237.1" x2="133.9" y2="237.0" stroke="#111" stroke-width="5.4" stroke-linecap="round"/>
<line x1="134.6" y1="236.9" x2="134.8" y2="236.8" stroke="#111" stroke-width="5.4" stroke-linecap="round"/>
<line x1="135.6" y1="236.7" x2="135.8" y2="236.6" stroke="#111" stroke-width="5.4" stroke-linecap="round"/>
<line x1="136.6" y1="236.5" x2="136.8" y2="236.5" stroke="#111" stroke-width="5.5" stroke-linecap="round"/>
<line x1="137.5" y1="236.3" x2="137.8" y2="236.3" stroke="#111" stroke-width="5.5" stroke-linecap="round"/>
<line x1="138.5" y1="236.2" x2="138.8" y2="236.1" stroke="#111" stroke-width="5.5" stroke-linecap="round"/>
<line x1="139.5" y1="236.0" x2="139.8" y2="236.0" stroke="#111" stroke-width="5.6" stroke-linecap="round"/>
<line x1="140.5" y1="235.8" x2="140.7" y2="235.8" stroke="#111" stroke-width="5.6" stroke-linecap="round"/>
<line x1="141.5" y1="235.7" x2="141.7" y2="235.6" stroke="#111" stroke-width="5.6" stroke-linecap="round"/>
<line x1="142.5" y1="235.5" x2="142.7" y2="235.5" stroke="#111" stroke-width="5.7" stroke-linecap="round"/>
<line x1="143.4" y1="235.4" x2="143.7" y2="235.3" stroke="#111" stroke-width="5.7" stroke-linecap="round"/>
<line x1="144.4" y1="235.2" x2="144.7" y2="235.2" stroke="#111" stroke-width="5.7" stroke-linecap="round"/>
<line x1="145.4" y1="235.1" x2="145.6" y2="235.1" stroke="#111" stroke-width="5.7" stroke-linecap="round"/>
<line x1="146.4" y1="235.0" x2="146.6" y2="234.9" stroke="#111" stroke-width="5.8" stroke-linecap="round"/>
<line x1="147.4" y1="234.8" x2="147.6" y2="234.8" stroke="#111" stroke-width="5.8" stroke-linecap="round"/>
<line x1="148.4" y1="234.7" x2="148.6" y2="234.7" stroke="#111" stroke-width="5.8" stroke-linecap="round"/>
<line x1="149.3" y1="234.6" x2="149.6" y2="234.5" stroke="#111" stroke-width="5.9" stroke-linecap="round"/>
<line x1="150.3" y1="234.4" x2="150.6" y2="234.4" stroke="#111" stroke-width="5.9" stroke-linecap="round"/>
<line x1="151.3" y1="234.3" x2="151.5" y2="234.3" stroke="#111" stroke-width="5.9" stroke-linecap="round"/>
<line x1="152.3" y1="234.2" x2="152.5" y2="234.2" stroke="#111" stroke-width="5.9" stroke-linecap="round"/>
<line x1="153.3" y1="234.1" x2="153.5" y2="234.1" stroke="#111" stroke-width="6.0" stroke-linecap="round"/>
<rect x="108.2" y="247.8" width="1.1" height="1.1" fill="#111"/>
<rect x="102.6" y="251.8" width="1.1" height="1.1" fill="#111"/>
<rect x="108.4" y="247.6" width="1.1" height="1.1" fill="#111"/>
<rect x="150.7" y="235.5" width="1.1" height="1.1" fill="#111"/>
<rect x="132.2" y="232.3" width="1.1" height="1.1" fill="#111"/>
<rect x="123.2" y="237.0" width="1.1" height="1.1" fill="#111"/>
<rect x="125.9" y="237.5" width="1.1" height="1.1" fill="#111"/>
<rect x="150.4" y="233.9" width="1.1" height="1.1" fill="#111"/>
<rect x="90.9" y="287.7" width="1.1" height="1.1" fill="#111"/>
<rect x="103.0" y="252.7" width="1.1" height="1.1" fill="#111"/>
<rect x="105.0" y="254.4" width="1.1" height="1.1" fill="#111"/>
<rect x="111.8" y="249.8" width="1.1" height="1.1" fill="#111"/>
<rect x="140.0" y="238.5" width="1.1" height="1.1" fill="#111"/>
<rect x="118.3" y="245.3" width="1.1" height="1.1" fill="#111"/>
<rect x="152.6" y="232.9" width="1.1" height="1.1" fill="#111"/>
<rect x="139.7" y="234.1" width="1.1" height="1.1" fill="#111"/>
<rect x="131.8" y="242.7" width="1.1" height="1.1" fill="#111"/>
<rect x="124.6" y="237.2" width="1.1" height="1.1" fill="#111"/>
<rect x="107.8" y="242.8" width="1.1" height="1.1" fill="#111"/>
<rect x="141.1" y="236.4" width="1.1" height="1.1" fill="#111"/>
<rect x="124.4" y="240.4" width="1.1" height="1.1" fill="#111"/>
<rect x="130.2" y="232.4" width="1.1" height="1.1" fill="#111"/>
<rect x="134.2" y="238.8" width="1.1" height="1.1" fill="#111"/>
<rect x="147.4" y="234.7" width="1.1" height="1.1" fill="#111"/>
<rect x="94.2" y="273.9" width="1.1" height="1.1" fill="#111"/>
<rect x="104.7" y="250.0" width="1.1" height="1.1" fill="#111"/>
<rect x="96.5" y="264.4" width="1.1" height="1.1" fill="#111"/>
<rect x="135.6" y="232.7" width="1.1" height="1.1" fill="#111"/>
<rect x="117.0" y="235.8" width="1.1" height="1.1" fill="#111"/>
<rect x="105.2" y="246.2" width="1.1" height="1.1" fill="#111"/>
<rect x="123.1" y="233.6" width="1.1" height="1.1" fill="#111"/>
<rect x="148.1" y="235.1" width="1.1" height="1.1" fill="#111"/>
<rect x="129.0" y="233.9" width="1.1" height="1.1" fill="#111"/>
<rect x="115.2" y="239.1" width="1.1" height="1.1" fill="#111"/>
<rect x="117.1" y="239.8" width="1.1" height="1.1" fill="#111"/>
<rect x="110.5" y="241.9" width="1.1" height="1.1" fill="#111"/>
<rect x="134.1" y="244.5" width="1.1" height="1.1" fill="#111"/>
<rect x="116.1" y="243.9" width="1.1" height="1.1" fill="#111"/>
<rect x="96.4" y="270.1" width="1.1" height="1.1" fill="#111"/>
<rect x="154.8" y="234.5" width="1.1" height="1.1" fill="#111"/>
<rect x="98.7" y="262.6" width="1.1" height="1.1" fill="#111"/>
<rect x="143.3" y="235.6" width="1.1" height="1.1" fill="#111"/>
<rect x="117.4" y="243.2" width="1.1" height="1.1" fill="#111"/>
<rect x="149.4" y="238.6" width="1.1" height="1.1" fill="#111"/>
<rect x="99.2" y="261.7" width="1.1" height="1.1" fill="#111"/>
<rect x="148.6" y="237.0" width="1.1" height="1.1" fill="#111"/>
<rect x="108.7" y="245.4" width="1.1" height="1.1" fill="#111"/>
<rect x="142.4" y="235.1" width="1.1" height="1.1" fill="#111"/>
<rect x="112.4" y="248.0" width="1.1" height="1.1" fill="#111"/>
<rect x="137.8" y="240.3" width="1.1" height="1.1" fill="#111"/>
<rect x="147.1" y="236.8" width="1.1" height="1.1" fill="#111"/>
<rect x="139.8" y="230.9" width="1.1" height="1.1" fill="#111"/>
<rect x="125.1" y="236.4" width="1.1" height="1.1" fill="#111"/>
<rect x="154.5" y="237.3" width="1.1" height="1.1" fill="#111"/>
<rect x="145.0" y="233.0" width="1.1" height="1.1" fill="#111"/>
<rect x="112.6" y="239.0" width="1.1" height="1.1" fill="#111"/>
<rect x="115.0" y="236.9" width="1.1" height="1.1" fill="#111"/>
<rect x="151.8" y="232.8" width="1.1" height="1.1" fill="#111"/>
<rect x="110.2" y="246.3" width="1.1" height="1.1" fill="#111"/>
<rect x="115.8" y="241.7" width="1.1" height="1.1" fill="#111"/>
<rect x="141.9" y="237.5" width="1.1" height="1.1" fill="#111"/>
<rect x="128.6" y="236.6" width="1.1" height="1.1" fill="#111"/>
<rect x="113.7" y="237.7" width="1.1" height="1.1" fill="#111"/>
<rect x="130.0" y="234.4" width="1.1" height="1.1" fill="#111"/>
<rect x="106.9" y="257.6" width="1.1" height="1.1" fill="#111"/>
<rect x="126.4" y="241.1" width="1.1" height="1.1" fill="#111"/>
<rect x="105.8" y="252.2" width="1.1" height="1.1" fill="#111"/>
<rect x="100.3" y="254.9" width="1.1" height="1.1" fill="#111"/>
<rect x="107.6" y="246.3" width="1.1" height="1.1" fill="#111"/>
<rect x="153.4" y="230.7" width="1.1" height="1.1" fill="#111"/>
<rect x="139.5" y="236.6" width="1.1" height="1.1" fill="#111"/>
<rect x="129.8" y="240.6" width="1.1" height="1.1" fill="#111"/>
<rect x="152.9" y="236.1" width="1.1" height="1.1" fill="#111"/>
<rect x="118.1" y="238.2" width="1.1" height="1.1" fill="#111"/>
<rect x="99.8" y="258.3" width="1.1" height="1.1" fill="#111"/>
<rect x="121.9" y="238.1" width="1.1" height="1.1" fill="#111"/>
<rect x="144.9" y="231.9" width="1.1" height="1.1" fill="#111"/>
<rect x="135.2" y="234.3" width="1.1" height="1.1" fill="#111"/>
<rect x="92.5" y="281.1" width="1.1" height="1.1" fill="#111"/>
<rect x="90.4" y="287.7" width="1.1" height="1.1" fill="#111"/>
<rect x="111.0" y="250.3" width="1.1" height="1.1" fill="#111"/>
<rect x="140.3" y="234.1" width="1.1" height="1.1" fill="#111"/>
<rect x="122.9" y="238.9" width="1.1" height="1.1" fill="#111"/>
<rect x="92.3" y="283.1" width="1.1" height="1.1" fill="#111"/>
<rect x="136.5" y="230.2" width="1.1" height="1.1" fill="#111"/>
<rect x="106.9" y="249.1" width="1.1" height="1.1" fill="#111"/>
<rect x="111.5" y="242.9" width="1.1" height="1.1" fill="#111"/>
<rect x="95.4" y="269.1" width="1.1" height="1.1" fill="#111"/>
<rect x="113.1" y="239.1" width="1.1" height="1.1" fill="#111"/>
<rect x="148.8" y="236.3" width="1.1" height="1.1" fill="#111"/>
<rect x="121.1" y="245.3" width="1.1" height="1.1" fill="#111"/>
<rect x="127.4" y="242.4" width="1.1" height="1.1" fill="#111"/>
<rect x="102.8" y="254.4" width="1.1" height="1.1" fill="#111"/>
<rect x="89.8" y="287.4" width="1.1" height="1.1" fill="#111"/>
<rect x="141.6" y="229.2" width="1.1" height="1.1" fill="#111"/>
<rect x="117.9" y="240.6" width="1.1" height="1.1" fill="#111"/>
<rect x="99.1" y="262.5" width="1.1" height="1.1" fill="#111"/>
<rect x="114.9" y="246.1" width="1.1" height="1.1" fill="#111"/>
<rect x="134.5" y="237.1" width="1.1" height="1.1" fill="#111"/>
<rect x="114.1" y="240.1" width="1.1" height="1.1" fill="#111"/>
<rect x="125.9" y="235.1" width="1.1" height="1.1" fill="#111"/>
<rect x="89.6" y="289.1" width="1.1" height="1.1" fill="#111"/>
<rect x="111.4" y="240.8" width="1.1" height="1.1" fill="#111"/>
<rect x="123.7" y="240.8" width="1.1" height="1.1" fill="#111"/>
<rect x="127.2" y="240.3" width="1.1" height="1.1" fill="#111"/>
<rect x="88.1" y="290.6" width="1.1" height="1.1" fill="#111"/>
<rect x="89.1" y="289.7" width="1.1" height="1.1" fill="#111"/>
<rect x="134.4" y="235.2" width="1.1" height="1.1" fill="#111"/>
<rect x="105.9" y="253.3" width="1.1" height="1.1" fill="#111"/>
<rect x="99.4" y="259.0" width="1.1" height="1.1" fill="#111"/>
<rect x="149.9" y="237.2" width="1.1" height="1.1" fill="#111"/>
<rect x="148.2" y="234.4" width="1.1" height="1.1" fill="#111"/>
<rect x="132.1" y="246.2" width="1.1" height="1.1" fill="#111"/>
<rect x="104.2" y="243.5" width="1.1" height="1.1" fill="#111"/>
<rect x="138.6" y="232.6" width="1.1" height="1.1" fill="#111"/>
<rect x="152.4" y="233.3" width="1.1" height="1.1" fill="#111"/>
<rect x="96.2" y="266.5" width="1.1" height="1.1" fill="#111"/>
<rect x="89.1" y="284.9" width="1.1" height="1.1" fill="#111"/>
<rect x="132.1" y="233.3" width="1.1" height="1.1" fill="#111"/>
<rect x="112.8" y="243.3" width="1.1" height="1.1" fill="#111"/>
<rect x="135.0" y="242.7" width="1.1" height="1.1" fill="#111"/>
<rect x="109.0" y="250.2" width="1.1" height="1.1" fill="#111"/>
<rect x="137.2" y="232.4" width="1.1" height="1.1" fill="#111"/>
<rect x="90.8" y="286.8" width="1.1" height="1.1" fill="#111"/>
<rect x="121.3" y="241.3" width="1.1" height="1.1" fill="#111"/>
<rect x="145.8" y="234.2" width="1.1" height="1.1" fill="#111"/>
<rect x="95.8" y="267.8" width="1.1" height="1.1" fill="#111"/>
<rect x="103.7" y="256.3" width="1.1" height="1.1" fill="#111"/>
<rect x="98.5" y="260.9" width="1.1" height="1.1" fill="#111"/>
<rect x="89.6" y="284.4" width="1.1" height="1.1" fill="#111"/>
<rect x="95.5" y="271.0" width="1.1" height="1.1" fill="#111"/>
<rect x="139.8" y="237.5" width="1.1" height="1.1" fill="#111"/>
<rect x="152.9" y="234.8" width="1.1" height="1.1" fill="#111"/>
<rect x="147.1" y="233.7" width="1.1" height="1.1" fill="#111"/>
<rect x="130.7" y="237.6" width="1.1" height="1.1" fill="#111"/>
<rect x="145.2" y="240.8" width="1.1" height="1.1" fill="#111"/>
<rect x="122.9" y="240.6" width="1.1" height="1.1" fill="#111"/>
<rect x="151.9" y="239.4" width="1.1" height="1.1" fill="#111"/>
<rect x="143.7" y="235.8" width="1.1" height="1.1" fill="#111"/>
<rect x="115.6" y="245.3" width="1.1" height="1.1" fill="#111"/>
<rect x="116.0" y="240.5" width="1.1" height="1.1" fill="#111"/>
<rect x="102.0" y="257.4" width="1.1" height="1.1" fill="#111"/>
<rect x="147.4" y="231.8" width="1.1" height="1.1" fill="#111"/>
<rect x="148.2" y="238.1" width="1.1" height="1.1" fill="#111"/>
<rect x="91.7" y="272.0" width="1.1" height="1.1" fill="#111"/>
<rect x="134.7" y="236.1" width="1.1" height="1.1" fill="#111"/>
<rect x="101.1" y="255.0" width="1.1" height="1.1" fill="#111"/>
<rect x="106.1" y="250.5" width="1.1" height="1.1" fill="#111"/>
<rect x="90.8" y="285.4" width="1.1" height="1.1" fill="#111"/>
<rect x="156.5" y="231.6" width="1.1" height="1.1" fill="#111"/>
<rect x="99.4" y="259.4" width="1.1" height="1.1" fill="#111"/>
<rect x="143.9" y="232.9" width="1.1" height="1.1" fill="#111"/>
<rect x="143.0" y="232.0" width="1.1" height="1.1" fill="#111"/>
<rect x="118.0" y="243.8" width="1.1" height="1.1" fill="#111"/>
<rect x="89.5" y="291.5" width="1.1" height="1.1" fill="#111"/>
<rect x="119.2" y="241.0" width="1.1" height="1.1" fill="#111"/>
<rect x="116.1" y="241.8" width="1.1" height="1.1" fill="#111"/>
<rect x="93.4" y="271.6" width="1.1" height="1.1" fill="#111"/>
<rect x="91.4" y="282.9" width="1.1" height="1.1" fill="#111"/>
<rect x="107.8" y="249.0" width="1.1" height="1.1" fill="#111"/>
<rect x="85.9" y="295.2" width="1.1" height="1.1" fill="#111"/>
<rect x="125.5" y="242.5" width="1.1" height="1.1" fill="#111"/>
<rect x="91.4" y="284.3" width="1.1" height="1.1" fill="#111"/>
<rect x="138.5" y="233.4" width="1.1" height="1.1" fill="#111"/>
<rect x="146.3" y="234.4" width="1.1" height="1.1" fill="#111"/>
<rect x="112.4" y="242.3" width="1.1" height="1.1" fill="#111"/>
<rect x="121.0" y="243.0" width="1.1" height="1.1" fill="#111"/>
<rect x="86.5" y="295.2" width="1.1" height="1.1" fill="#111"/>
<rect x="92.8" y="279.2" width="1.1" height="1.1" fill="#111"/>
<rect x="148.1" y="239.7" width="1.1" height="1.1" fill="#111"/>
<rect x="146.2" y="233.5" width="1.1" height="1.1" fill="#111"/>
<rect x="95.4" y="265.8" width="1.1" height="1.1" fill="#111"/>
<rect x="98.7" y="261.3" width="1.1" height="1.1" fill="#111"/>
<rect x="88.9" y="290.0" width="1.1" height="1.1" fill="#111"/>
<rect x="136.8" y="233.7" width="1.1" height="1.1" fill="#111"/>
<rect x="98.5" y="261.0" width="1.1" height="1.1" fill="#111"/>
<rect x="122.4" y="243.5" width="1.1" height="1.1" fill="#111"/>
<rect x="92.1" y="279.7" width="1.1" height="1.1" fill="#111"/>
<rect x="145.5" y="228.2" width="1.1" height="1.1" fill="#111"/>
<rect x="153.3" y="239.5" width="1.1" height="1.1" fill="#111"/>
<rect x="143.0" y="237.0" width="1.1" height="1.1" fill="#111"/>
<rect x="153.2" y="233.8" width="1.1" height="1.1" fill="#111"/>
<rect x="93.2" y="284.7" width="1.1" height="1.1" fill="#111"/>
<rect x="93.3" y="276.8" width="1.1" height="1.1" fill="#111"/>
<rect x="121.6" y="238.6" width="1.1" height="1.1" fill="#111"/>
<rect x="145.5" y="234.3" width="1.1" height="1.1" fill="#111"/>
<rect x="127.5" y="236.5" width="1.1" height="1.1" fill="#111"/>
<rect x="93.0" y="279.5" width="1.1" height="1.1" fill="#111"/>
<rect x="114.9" y="238.7" width="1.1" height="1.1" fill="#111"/>
<rect x="102.8" y="252.6" width="1.1" height="1.1" fill="#111"/>
<rect x="130.0" y="237.2" width="1.1" height="1.1" fill="#111"/>
<rect x="105.0" y="254.8" width="1.1" height="1.1" fill="#111"/>
<rect x="105.0" y="247.3" width="1.1" height="1.1" fill="#111"/>
<rect x="130.6" y="233.5" width="1.1" height="1.1" fill="#111"/>
<rect x="136.3" y="237.8" width="1.1" height="1.1" fill="#111"/>
<rect x="84.9" y="298.1" width="1.1" height="1.1" fill="#111"/>
<rect x="109.4" y="252.7" width="1.1" height="1.1" fill="#111"/>
<rect x="130.8" y="233.8" width="1.1" height="1.1" fill="#111"/>
<rect x="89.9" y="284.5" width="1.1" height="1.1" fill="#111"/>
<rect x="112.2" y="246.6" width="1.1" height="1.1" fill="#111"/>
<rect x="92.2" y="278.4" width="1.1" height="1.1" fill="#111"/>
<rect x="139.3" y="239.1" width="1.1" height="1.1" fill="#111"/>
<rect x="140.4" y="234.1" width="1.1" height="1.1" fill="#111"/>
<rect x="98.0" y="263.8" width="1.1" height="1.1" fill="#111"/>
<rect x="139.6" y="233.2" width="1.1" height="1.1" fill="#111"/>
<rect x="90.6" y="282.7" width="1.1" height="1.1" fill="#111"/>
<rect x="101.6" y="253.5" width="1.1" height="1.1" fill="#111"/>
<rect x="145.3" y="230.1" width="1.1" height="1.1" fill="#111"/>
<rect x="140.4" y="236.2" width="1.1" height="1.1" fill="#111"/>
<rect x="93.5" y="277.6" width="1.1" height="1.1" fill="#111"/>
<rect x="103.3" y="250.1" width="1.1" height="1.1" fill="#111"/>
<rect x="129.0" y="243.4" width="1.1" height="1.1" fill="#111"/>
<rect x="113.1" y="248.9" width="1.1" height="1.1" fill="#111"/>
<rect x="130.4" y="233.6" width="1.1" height="1.1" fill="#111"/>
<rect x="116.1" y="248.7" width="1.1" height="1.1" fill="#111"/>
<rect x="129.2" y="235.8" width="1.1" height="1.1" fill="#111"/>
<rect x="96.2" y="264.0" width="1.1" height="1.1" fill="#111"/>
<rect x="97.2" y="266.0" width="1.1" height="1.1" fill="#111"/>
<rect x="108.2" y="250.1" width="1.1" height="1.1" fill="#111"/>
<rect x="88.7" y="287.4" width="1.1" height="1.1" fill="#111"/>
<rect x="138.3" y="237.0" width="1.1" height="1.1" fill="#111"/>
<rect x="142.5" y="236.1" width="1.1" height="1.1" fill="#111"/>
<rect x="119.2" y="230.4" width="1.1" height="1.1" fill="#111"/>
<rect x="114.0" y="243.4" width="1.1" height="1.1" fill="#111"/>
<rect x="90.4" y="286.0" width="1.1" height="1.1" fill="#111"/>
<rect x="113.1" y="241.8" width="1.1" height="1.1" fill="#111"/>
<rect x="126.0" y="239.8" width="1.1" height="1.1" fill="#111"/>
<rect x="108.1" y="249.6" width="1.1" height="1.1" fill="#111"/>
<rect x="142.4" y="231.9" width="1.1" height="1.1" fill="#111"/>
<rect x="131.9" y="237.4" width="1.1" height="1.1" fill="#111"/>
<rect x="95.0" y="276.0" width="1.1" height="1.1" fill="#111"/>
<rect x="88.7" y="294.8" width="1.1" height="1.1" fill="#111"/>
<rect x="118.8" y="235.9" width="1.1" height="1.1" fill="#111"/>
<rect x="102.9" y="250.4" width="1.1" height="1.1" fill="#111"/>
<rect x="105.9" y="247.2" width="1.1" height="1.1" fill="#111"/>
<rect x="92.8" y="282.8" width="1.1" height="1.1" fill="#111"/>
<rect x="123.6" y="237.2" width="1.1" height="1.1" fill="#111"/>
<rect x="110.9" y="244.7" width="1.1" height="1.1" fill="#111"/>
<rect x="149.7" y="236.1" width="1.1" height="1.1" fill="#111"/>
<rect x="112.7" y="244.7" width="1.1" height="1.1" fill="#111"/>
<rect x="131.8" y="238.7" width="1.1" height="1.1" fill="#111"/>
<rect x="145.1" y="231.1" width="1.1" height="1.1" fill="#111"/>
<rect x="153.5" y="235.9" width="1.1" height="1.1" fill="#111"/>
<rect x="92.9" y="276.6" width="1.1" height="1.1" fill="#111"/>
<rect x="123.6" y="239.5" width="1.1" height="1.1" fill="#111"/>
<rect x="115.4" y="244.9" width="1.1" height="1.1" fill="#111"/>
<rect x="91.4" y="277.2" width="1.1" height="1.1" fill="#111"/>
<rect x="155.0" y="236.9" width="1.1" height="1.1" fill="#111"/>
<rect x="105.7" y="250.6" width="1.1" height="1.1" fill="#111"/>
<rect x="147.8" y="230.3" width="1.1" height="1.1" fill="#111"/>
<rect x="112.6" y="246.3" width="1.1" height="1.1" fill="#111"/>
<rect x="91.1" y="281.5" width="1.1" height="1.1" fill="#111"/>
<rect x="137.3" y="233.9" width="1.1" height="1.1" fill="#111"/>
<rect x="107.1" y="251.9" width="1.1" height="1.1" fill="#111"/>
<rect x="144.3" y="237.3" width="1.1" height="1.1" fill="#111"/>
<rect x="141.3" y="238.3" width="1.1" height="1.1" fill="#111"/>
<rect x="146.4" y="235.2" width="1.1" height="1.1" fill="#111"/>
<rect x="136.7" y="241.6" width="1.1" height="1.1" fill="#111"/>
<rect x="91.0" y="284.7" width="1.1" height="1.1" fill="#111"/>
<rect x="119.9" y="238.1" width="1.1" height="1.1" fill="#111"/>
<rect x="147.7" y="240.1" width="1.1" height="1.1" fill="#111"/>
<rect x="93.9" y="272.1" width="1.1" height="1.1" fill="#111"/>
<rect x="153.1" y="235.9" width="1.1" height="1.1" fill="#111"/>
<rect x="128.4" y="238.5" width="1.1" height="1.1" fill="#111"/>
<rect x="89.6" y="288.2" width="1.1" height="1.1" fill="#111"/>
<rect x="111.8" y="242.4" width="1.1" height="1.1" fill="#111"/>
<rect x="90.7" y="289.5" width="1.1" height="1.1" fill="#111"/>
<rect x="106.3" y="249.6" width="1.1" height="1.1" fill="#111"/>
<rect x="134.4" y="236.7" width="1.1" height="1.1" fill="#111"/>
<rect x="131.7" y="238.1" width="1.1" height="1.1" fill="#111"/>
<rect x="154.5" y="228.9" width="1.1" height="1.1" fill="#111"/>
<rect x="129.2" y="242.4" width="1.1" height="1.1" fill="#111"/>
<rect x="131.5" y="238.5" width="1.1" height="1.1" fill="#111"/>
<rect x="113.4" y="246.2" width="1.1" height="1.1" fill="#111"/>
<rect x="135.2" y="239.4" width="1.1" height="1.1" fill="#111"/>
<rect x="115.6" y="241.6" width="1.1" height="1.1" fill="#111"/>
<rect x="94.1" y="270.1" width="1.1" height="1.1" fill="#111"/>
<rect x="152.9" y="234.7" width="1.1" height="1.1" fill="#111"/>
<rect x="125.2" y="245.3" width="1.1" height="1.1" fill="#111"/>
<rect x="139.4" y="233.9" width="1.1" height="1.1" fill="#111"/>
<rect x="110.1" y="243.5" width="1.1" height="1.1" fill="#111"/>
<rect x="128.2" y="239.9" width="1.1" height="1.1" fill="#111"/>
<rect x="98.1" y="260.1" width="1.1" height="1.1" fill="#111"/>
<rect x="133.6" y="234.2" width="1.1" height="1.1" fill="#111"/>
<rect x="136.7" y="234.8" width="1.1" height="1.1" fill="#111"/>
<rect x="118.2" y="245.0" width="1.1" height="1.1" fill="#111"/>
<rect x="113.9" y="238.9" width="1.1" height="1.1" fill="#111"/>
<rect x="147.1" y="235.1" width="1.1" height="1.1" fill="#111"/>
<rect x="104.7" y="259.1" width="1.1" height="1.1" fill="#111"/>
<rect x="115.1" y="245.8" width="1.1" height="1.1" fill="#111"/>
<rect x="101.2" y="249.8" width="1.1" height="1.1" fill="#111"/>
<rect x="134.4" y="234.2" width="1.1" height="1.1" fill="#111"/>
<rect x="97.6" y="262.0" width="1.1" height="1.1" fill="#111"/>
<rect x="91.9" y="278.7" width="1.1" height="1.1" fill="#111"/>
<rect x="111.8" y="243.1" width="1.1" height="1.1" fill="#111"/>
<rect x="140.1" y="240.3" width="1.1" height="1.1" fill="#111"/>
<rect x="138.0" y="237.6" width="1.1" height="1.1" fill="#111"/>
<rect x="89.7" y="286.3" width="1.1" height="1.1" fill="#111"/>
<rect x="88.3" y="293.4" width="1.1" height="1.1" fill="#111"/>
<rect x="144.9" y="236.8" width="1.1" height="1.1" fill="#111"/>
<rect x="121.3" y="237.8" width="1.1" height="1.1" fill="#111"/>
<rect x="128.5" y="235.1" width="1.1" height="1.1" fill="#111"/>
<rect x="89.6" y="288.6" width="1.1" height="1.1" fill="#111"/>
<rect x="97.4" y="268.6" width="1.1" height="1.1" fill="#111"/>
<rect x="140.8" y="235.0" width="1.1" height="1.1" fill="#111"/>
<rect x="104.2" y="251.4" width="1.1" height="1.1" fill="#111"/>
<rect x="86.3" y="292.6" width="1.1" height="1.1" fill="#111"/>
<rect x="154.5" y="238.4" width="1.1" height="1.1" fill="#111"/>
<rect x="132.4" y="232.1" width="1.1" height="1.1" fill="#111"/>
<rect x="146.0" y="230.6" width="1.1" height="1.1" fill="#111"/>
<rect x="116.9" y="246.3" width="1.1" height="1.1" fill="#111"/>
<rect x="117.4" y="243.0" width="1.1" height="1.1" fill="#111"/>
<rect x="150.8" y="232.2" width="1.1" height="1.1" fill="#111"/>
<rect x="150.6" y="229.3" width="1.1" height="1.1" fill="#111"/>
<rect x="90.9" y="289.0" width="1.1" height="1.1" fill="#111"/>
<rect x="134.8" y="234.3" width="1.1" height="1.1" fill="#111"/>
<rect x="133.5" y="230.0" width="1.1" height="1.1" fill="#111"/>
<rect x="120.8" y="237.3" width="1.1" height="1.1" fill="#111"/>
<rect x="130.6" y="238.1" width="1.1" height="1.1" fill="#111"/>
<rect x="126.6" y="240.2" width="1.1" height="1.1" fill="#111"/>
<rect x="147.5" y="238.9" width="1.1" height="1.1" fill="#111"/>
<rect x="123.0" y="241.8" width="1.1" height="1.1" fill="#111"/>
<rect x="117.9" y="245.1" width="1.1" height="1.1" fill="#111"/>
<rect x="138.2" y="239.3" width="1.1" height="1.1" fill="#111"/>
<rect x="132.4" y="232.8" width="1.1" height="1.1" fill="#111"/>
<rect x="144.1" y="228.5" width="1.1" height="1.1" fill="#111"/>
<rect x="153.8" y="230.8" width="1.1" height="1.1" fill="#111"/>
<rect x="142.4" y="237.2" width="1.1" height="1.1" fill="#111"/>
<rect x="127.1" y="245.1" width="1.1" height="1.1" fill="#111"/>
<rect x="116.8" y="245.7" width="1.1" height="1.1" fill="#111"/>
<rect x="88.8" y="289.4" width="1.1" height="1.1" fill="#111"/>
<rect x="126.2" y="242.2" width="1.1" height="1.1" fill="#111"/>
<rect x="100.0" y="261.9" width="1.1" height="1.1" fill="#111"/>
<rect x="97.3" y="262.4" width="1.1" height="1.1" fill="#111"/>
<rect x="151.0" y="229.4" width="1.1" height="1.1" fill="#111"/>
<rect x="139.3" y="236.4" width="1.1" height="1.1" fill="#111"/>
<rect x="100.7" y="257.2" width="1.1" height="1.1" fill="#111"/>
<rect x="148.1" y="231.3" width="1.1" height="1.1" fill="#111"/>
<rect x="120.3" y="245.5" width="1.1" height="1.1" fill="#111"/>
<rect x="146.3" y="236.9" width="1.1" height="1.1" fill="#111"/>
<rect x="137.6" y="234.4" width="1.1" height="1.1" fill="#111"/>
<rect x="87.9" y="294.4" width="1.1" height="1.1" fill="#111"/>
<rect x="90.6" y="285.6" width="1.1" height="1.1" fill="#111"/>
<rect x="149.4" y="230.0" width="1.1" height="1.1" fill="#111"/>
<rect x="109.2" y="248.5" width="1.1" height="1.1" fill="#111"/>
<rect x="138.9" y="238.9" width="1.1" height="1.1" fill="#111"/>
<rect x="87.7" y="291.3" width="1.1" height="1.1" fill="#111"/>
<rect x="140.3" y="235.9" width="1.1" height="1.1" fill="#111"/>
<rect x="152.8" y="231.8" width="1.1" height="1.1" fill="#111"/>
<rect x="91.0" y="286.9" width="1.1" height="1.1" fill="#111"/>
<rect x="95.2" y="271.0" width="1.1" height="1.1" fill="#111"/>
<rect x="99.8" y="259.7" width="1.1" height="1.1" fill="#111"/>
<rect x="89.2" y="287.7" width="1.1" height="1.1" fill="#111"/>
<rect x="96.9" y="267.2" width="1.1" height="1.1" fill="#111"/>
<rect x="140.4" y="234.3" width="1.1" height="1.1" fill="#111"/>
<rect x="116.3" y="239.2" width="1.1" height="1.1" fill="#111"/>
<rect x="98.8" y="263.1" width="1.1" height="1.1" fill="#111"/>
<rect x="115.6" y="247.5" width="1.1" height="1.1" fill="#111"/>
<rect x="96.5" y="272.2" width="1.1" height="1.1" fill="#111"/>
<rect x="133.5" y="240.9" width="1.1" height="1.1" fill="#111"/>
<rect x="116.3" y="244.0" width="1.1" height="1.1" fill="#111"/>
<rect x="132.7" y="238.6" width="1.1" height="1.1" fill="#111"/>
<rect x="139.8" y="230.6" width="1.1" height="1.1" fill="#111"/>
<rect x="141.0" y="238.0" width="1.1" height="1.1" fill="#111"/>
<rect x="86.6" y="295.2" width="1.1" height="1.1" fill="#111"/>
<rect x="135.0" y="236.4" width="1.1" height="1.1" fill="#111"/>
<rect x="150.8" y="237.7" width="1.1" height="1.1" fill="#111"/>
<rect x="152.4" y="234.1" width="1.1" height="1.1" fill="#111"/>
<rect x="135.3" y="229.7" width="1.1" height="1.1" fill="#111"/>
<rect x="149.1" y="231.2" width="1.1" height="1.1" fill="#111"/>
<rect x="106.6" y="248.3" width="1.1" height="1.1" fill="#111"/>
<rect x="122.5" y="247.1" width="1.1" height="1.1" fill="#111"/>
<rect x="94.4" y="273.1" width="1.1" height="1.1" fill="#111"/>
<rect x="149.6" y="238.5" width="1.1" height="1.1" fill="#111"/>
<rect x="125.5" y="237.3" width="1.1" height="1.1" fill="#111"/>
<rect x="87.9" y="293.6" width="1.1" height="1.1" fill="#111"/>
<rect x="91.6" y="281.9" width="1.1" height="1.1" fill="#111"/>
<rect x="113.0" y="240.0" width="1.1" height="1.1" fill="#111"/>
<rect x="108.9" y="246.5" width="1.1" height="1.1" fill="#111"/>
<rect x="130.5" y="237.2" width="1.1" height="1.1" fill="#111"/>
<rect x="124.2" y="243.1" width="1.1" height="1.1" fill="#111"/>
<rect x="141.6" y="240.3" width="1.1" height="1.1" fill="#111"/>
<rect x="153.5" y="232.4" width="1.1" height="1.1" fill="#111"/>
<rect x="85.4" y="296.8" width="1.1" height="1.1" fill="#111"/>
<rect x="130.2" y="240.4" width="1.1" height="1.1" fill="#111"/>
<rect x="151.0" y="239.7" width="1.1" height="1.1" fill="#111"/>
<rect x="154.6" y="230.5" width="1.1" height="1.1" fill="#111"/>
<rect x="133.6" y="235.0" width="1.1" height="1.1" fill="#111"/>
<rect x="106.4" y="247.3" width="1.1" height="1.1" fill="#111"/>
<rect x="149.7" y="238.7" width="1.1" height="1.1" fill="#111"/>
<rect x="99.8" y="254.6" width="1.1" height="1.1" fill="#111"/>
<rect x="148.3" y="238.0" width="1.1" height="1.1" fill="#111"/>
<rect x="90.9" y="287.1" width="1.1" height="1.1" fill="#111"/>
<rect x="151.2" y="231.3" width="1.1" height="1.1" fill="#111"/>
<rect x="112.5" y="240.8" width="1.1" height="1.1" fill="#111"/>
<rect x="152.9" y="237.7" width="1.1" height="1.1" fill="#111"/>
<rect x="153.4" y="239.0" width="1.1" height="1.1" fill="#111"/>
<rect x="90.7" y="283.4" width="1.1" height="1.1" fill="#111"/>
<rect x="116.7" y="243.3" width="1.1" height="1.1" fill="#111"/>
<rect x="100.4" y="257.1" width="1.1" height="1.1" fill="#111"/>
<rect x="151.5" y="239.2" width="1.1" height="1.1" fill="#111"/>
<rect x="86.4" y="293.2" width="1.1" height="1.1" fill="#111"/>
<rect x="95.7" y="270.1" width="1.1" height="1.1" fill="#111"/>
<rect x="125.3" y="240.1" width="1.1" height="1.1" fill="#111"/>
<rect x="92.2" y="281.2" width="1.1" height="1.1" fill="#111"/>
<rect x="121.4" y="236.0" width="1.1" height="1.1" fill="#111"/>
<rect x="148.6" y="238.2" width="1.1" height="1.1" fill="#111"/>
<rect x="103.4" y="252.3" width="1.1" height="1.1" fill="#111"/>
<rect x="115.4" y="243.8" width="1.1" height="1.1" fill="#111"/>
<rect x="112.4" y="242.5" width="1.1" height="1.1" fill="#111"/>
<rect x="153.0" y="232.4" width="1.1" height="1.1" fill="#111"/>
<rect x="151.0" y="234.0" width="1.1" height="1.1" fill="#111"/>
<rect x="115.8" y="238.2" width="1.1" height="1.1" fill="#111"/>
<rect x="108.5" y="243.9" width="1.1" height="1.1" fill="#111"/>
<rect x="113.7" y="242.2" width="1.1" height="1.1" fill="#111"/>
<rect x="136.0" y="236.7" width="1.1" height="1.1" fill="#111"/>
<rect x="103.3" y="249.4" width="1.1" height="1.1" fill="#111"/>
<rect x="88.7" y="293.6" width="1.1" height="1.1" fill="#111"/>
<rect x="92.6" y="277.4" width="1.1" height="1.1" fill="#111"/>
<rect x="105.7" y="249.7" width="1.1" height="1.1" fill="#111"/>
<rect x="141.2" y="235.3" width="1.1" height="1.1" fill="#111"/>
<rect x="146.1" y="235.8" width="1.1" height="1.1" fill="#111"/>
<rect x="94.1" y="273.8" width="1.1" height="1.1" fill="#111"/>
<rect x="130.0" y="242.0" width="1.1" height="1.1" fill="#111"/>
<rect x="151.1" y="235.9" width="1.1" height="1.1" fill="#111"/>
<rect x="85.0" y="296.5" width="1.1" height="1.1" fill="#111"/>
<rect x="92.7" y="274.8" width="1.1" height="1.1" fill="#111"/>
<rect x="151.7" y="234.7" width="1.1" height="1.1" fill="#111"/>
<rect x="148.7" y="234.5" width="1.1" height="1.1" fill="#111"/>
<rect x="90.1" y="288.1" width="1.1" height="1.1" fill="#111"/>
<rect x="103.5" y="252.0" width="1.1" height="1.1" fill="#111"/>
<rect x="96.4" y="267.7" width="1.1" height="1.1" fill="#111"/>
<rect x="131.1" y="234.6" width="1.1" height="1.1" fill="#111"/>
<rect x="134.8" y="239.9" width="1.1" height="1.1" fill="#111"/>
<rect x="111.5" y="246.2" width="1.1" height="1.1" fill="#111"/>
<rect x="142.7" y="237.9" width="1.1" height="1.1" fill="#111"/>
<rect x="99.5" y="259.7" width="1.1" height="1.1" fill="#111"/>
<rect x="94.0" y="274.3" width="1.1" height="1.1" fill="#111"/>
<rect x="115.4" y="238.7" width="1.1" height="1.1" fill="#111"/>
<rect x="135.6" y="239.8" width="1.1" height="1.1" fill="#111"/>
<rect x="90.2" y="287.1" width="1.1" height="1.1" fill="#111"/>
<rect x="109.9" y="249.3" width="1.1" height="1.1" fill="#111"/>
<rect x="124.4" y="235.4" width="1.1" height="1.1" fill="#111"/>
<rect x="113.6" y="239.8" width="1.1" height="1.1" fill="#111"/>
<rect x="88.0" y="295.4" width="1.1" height="1.1" fill="#111"/>
<rect x="87.0" y="292.9" width="1.1" height="1.1" fill="#111"/>
<rect x="133.3" y="241.0" width="1.1" height="1.1" fill="#111"/>
<rect x="88.2" y="291.0" width="1.1" height="1.1" fill="#111"/>
<rect x="142.7" y="229.2" width="1.1" height="1.1" fill="#111"/>
<rect x="102.7" y="250.8" width="1.1" height="1.1" fill="#111"/>
<rect x="108.8" y="243.0" width="1.1" height="1.1" fill="#111"/>
<rect x="141.3" y="232.8" width="1.1" height="1.1" fill="#111"/>
<rect x="124.8" y="244.0" width="1.1" height="1.1" fill="#111"/>
<rect x="92.9" y="277.4" width="1.1" height="1.1" fill="#111"/>
<rect x="96.1" y="270.2" width="1.1" height="1.1" fill="#111"/>
<rect x="126.9" y="240.0" width="1.1" height="1.1" fill="#111"/>
<rect x="133.5" y="237.2" width="1.1" height="1.1" fill="#111"/>
<rect x="140.2" y="234.3" width="1.1" height="1.1" fill="#111"/>
<rect x="124.9" y="238.4" width="1.1" height="1.1" fill="#111"/>
<rect x="143.6" y="238.1" width="1.1" height="1.1" fill="#111"/>
<rect x="119.7" y="243.2" width="1.1" height="1.1" fill="#111"/>
<rect x="149.9" y="239.6" width="1.1" height="1.1" fill="#111"/>
<rect x="123.1" y="240.0" width="1.1" height="1.1" fill="#111"/>
<rect x="86.8" y="297.4" width="1.1" height="1.1" fill="#111"/>
<rect x="139.0" y="234.1" width="1.1" height="1.1" fill="#111"/>
<rect x="97.7" y="267.4" width="1.1" height="1.1" fill="#111"/>
<rect x="144.4" y="234.4" width="1.1" height="1.1" fill="#111"/>
<rect x="86.4" y="295.6" width="1.1" height="1.1" fill="#111"/>
<rect x="104.4" y="254.2" width="1.1" height="1.1" fill="#111"/>
<rect x="96.1" y="270.6" width="1.1" height="1.1" fill="#111"/>
<rect x="150.1" y="239.7" width="1.1" height="1.1" fill="#111"/>
<rect x="90.1" y="287.3" width="1.1" height="1.1" fill="#111"/>
<rect x="143.1" y="236.4" width="1.1" height="1.1" fill="#111"/>
<rect x="152.9" y="232.1" width="1.1" height="1.1" fill="#111"/>
<rect x="97.4" y="270.8" width="1.1" height="1.1" fill="#111"/>
<rect x="122.7" y="236.6" width="1.1" height="1.1" fill="#111"/>
<rect x="133.7" y="241.8" width="1.1" height="1.1" fill="#111"/>
<rect x="107.7" y="248.1" width="1.1" height="1.1" fill="#111"/>
<rect x="100.9" y="259.5" width="1.1" height="1.1" fill="#111"/>
<rect x="147.5" y="237.7" width="1.1" height="1.1" fill="#111"/>
<rect x="136.0" y="241.8" width="1.1" height="1.1" fill="#111"/>
<rect x="154.7" y="232.6" width="1.1" height="1.1" fill="#111"/>
<rect x="86.8" y="293.0" width="1.1" height="1.1" fill="#111"/>
<rect x="133.0" y="242.2" width="1.1" height="1.1" fill="#111"/>
<rect x="152.1" y="230.2" width="1.1" height="1.1" fill="#111"/>
<rect x="105.1" y="243.8" width="1.1" height="1.1" fill="#111"/>
<rect x="147.6" y="233.5" width="1.1" height="1.1" fill="#111"/>
<rect x="116.7" y="241.2" width="1.1" height="1.1" fill="#111"/>
<rect x="124.6" y="235.2" width="1.1" height="1.1" fill="#111"/>
<rect x="131.7" y="241.7" width="1.1" height="1.1" fill="#111"/>
<rect x="153.0" y="231.9" width="1.1" height="1.1" fill="#111"/>
<rect x="144.2" y="240.0" width="1.1" height="1.1" fill="#111"/>
<rect x="133.5" y="234.2" width="1.1" height="1.1" fill="#111"/>
<rect x="149.8" y="235.0" width="1.1" height="1.1" fill="#111"/>
<rect x="94.4" y="271.7" width="1.1" height="1.1" fill="#111"/>
<rect x="92.3" y="276.4" width="1.1" height="1.1" fill="#111"/>
<rect x="98.4" y="258.1" width="1.1" height="1.1" fill="#111"/>
<rect x="117.5" y="244.2" width="1.1" height="1.1" fill="#111"/>
<rect x="98.9" y="263.2" width="1.1" height="1.1" fill="#111"/>
<rect x="110.1" y="250.6" width="1.1" height="1.1" fill="#111"/>
<rect x="86.5" y="297.6" width="1.1" height="1.1" fill="#111"/>
<rect x="108.8" y="249.7" width="1.1" height="1.1" fill="#111"/>
<rect x="112.4" y="242.5" width="1.1" height="1.1" fill="#111"/>
<rect x="102.7" y="254.8" width="1.1" height="1.1" fill="#111"/>
<rect x="147.3" y="231.3" width="1.1" height="1.1" fill="#111"/>
<rect x="91.4" y="281.3" width="1.1" height="1.1" fill="#111"/>
<rect x="107.7" y="249.1" width="1.1" height="1.1" fill="#111"/>
<rect x="114.5" y="243.7" width="1.1" height="1.1" fill="#111"/>
<rect x="97.5" y="267.9" width="1.1" height="1.1" fill="#111"/>
<rect x="95.5" y="266.3" width="1.1" height="1.1" fill="#111"/>
<rect x="131.9" y="235.1" width="1.1" height="1.1" fill="#111"/>
<rect x="142.7" y="233.7" width="1.1" height="1.1" fill="#111"/>
<rect x="143.9" y="238.5" width="1.1" height="1.1" fill="#111"/>
<rect x="153.8" y="234.8" width="1.1" height="1.1" fill="#111"/>
<rect x="128.3" y="240.7" width="1.1" height="1.1" fill="#111"/>
<rect x="104.2" y="242.6" width="1.1" height="1.1" fill="#111"/>
<rect x="155.8" y="239.0" width="1.1" height="1.1" fill="#111"/>
<rect x="113.4" y="245.6" width="1.1" height="1.1" fill="#111"/>
<rect x="91.1" y="286.7" width="1.1" height="1.1" fill="#111"/>
<rect x="102.8" y="246.5" width="1.1" height="1.1" fill="#111"/>
<rect x="153.6" y="239.5" width="1.1" height="1.1" fill="#111"/>
<rect x="124.6" y="239.5" width="1.1" height="1.1" fill="#111"/>
<rect x="140.6" y="243.6" width="1.1" height="1.1" fill="#111"/>
<rect x="100.7" y="258.0" width="1.1" height="1.1" fill="#111"/>
<rect x="111.5" y="246.8" width="1.1" height="1.1" fill="#111"/>
<rect x="131.2" y="238.2" width="1.1" height="1.1" fill="#111"/>
<rect x="126.7" y="238.7" width="1.1" height="1.1" fill="#111"/>
<rect x="87.9" y="290.1" width="1.1" height="1.1" fill="#111"/>
<rect x="153.6" y="229.4" width="1.1" height="1.1" fill="#111"/>
<rect x="142.3" y="234.6" width="1.1" height="1.1" fill="#111"/>
<rect x="102.2" y="256.4" width="1.1" height="1.1" fill="#111"/>
<rect x="112.3" y="241.5" width="1.1" height="1.1" fill="#111"/>
<rect x="139.9" y="234.4" width="1.1" height="1.1" fill="#111"/>
<rect x="125.5" y="236.5" width="1.1" height="1.1" fill="#111"/>
<rect x="152.1" y="233.8" width="1.1" height="1.1" fill="#111"/>
<rect x="128.7" y="234.2" width="1.1" height="1.1" fill="#111"/>
<rect x="147.8" y="234.6" width="1.1" height="1.1" fill="#111"/>
<rect x="154.2" y="235.0" width="1.1" height="1.1" fill="#111"/>
<rect x="88.1" y="293.7" width="1.1" height="1.1" fill="#111"/>
<rect x="111.7" y="240.0" width="1.1" height="1.1" fill="#111"/>
<rect x="123.8" y="234.3" width="1.1" height="1.1" fill="#111"/>
<rect x="91.8" y="284.3" width="1.1" height="1.1" fill="#111"/>
<rect x="92.4" y="279.4" width="1.1" height="1.1" fill="#111"/>
<rect x="93.3" y="274.8" width="1.1" height="1.1" fill="#111"/>
<rect x="154.5" y="235.0" width="1.1" height="1.1" fill="#111"/>
<rect x="136.7" y="240.1" width="1.1" height="1.1" fill="#111"/>
<rect x="113.6" y="242.0" width="1.1" height="1.1" fill="#111"/>
<rect x="151.9" y="240.4" width="1.1" height="1.1" fill="#111"/>
<rect x="135.6" y="233.6" width="1.1" height="1.1" fill="#111"/>
<rect x="148.5" y="232.3" width="1.1" height="1.1" fill="#111"/>
<rect x="88.9" y="293.0" width="1.1" height="1.1" fill="#111"/>
<rect x="98.0" y="263.0" width="1.1" height="1.1" fill="#111"/>
<rect x="92.8" y="276.1" width="1.1" height="1.1" fill="#111"/>
<rect x="124.8" y="243.0" width="1.1" height="1.1" fill="#111"/>
<rect x="126.1" y="234.0" width="1.1" height="1.1" fill="#111"/>
<rect x="129.8" y="238.3" width="1.1" height="1.1" fill="#111"/>
<rect x="153.5" y="228.4" width="1.1" height="1.1" fill="#111"/>
<rect x="138.1" y="238.7" width="1.1" height="1.1" fill="#111"/>
<rect x="142.1" y="236.9" width="1.1" height="1.1" fill="#111"/>
<rect x="115.0" y="240.8" width="1.1" height="1.1" fill="#111"/>
<rect x="95.8" y="268.1" width="1.1" height="1.1" fill="#111"/>
<rect x="135.9" y="234.1" width="1.1" height="1.1" fill="#111"/>
<rect x="104.3" y="250.5" width="1.1" height="1.1" fill="#111"/>
<rect x="148.3" y="239.2" width="1.1" height="1.1" fill="#111"/>
<rect x="94.5" y="274.0" width="1.1" height="1.1" fill="#111"/>
<rect x="135.0" y="237.5" width="1.1" height="1.1" fill="#111"/>
<rect x="129.3" y="233.9" width="1.1" height="1.1" fill="#111"/>
<rect x="141.5" y="232.3" width="1.1" height="1.1" fill="#111"/>
<rect x="148.3" y="233.3" width="1.1" height="1.1" fill="#111"/>
<rect x="100.5" y="251.9" width="1.1" height="1.1" fill="#111"/>
<rect x="146.5" y="241.8" width="1.1" height="1.1" fill="#111"/>
<rect x="140.3" y="235.7" width="1.1" height="1.1" fill="#111"/>
<rect x="138.2" y="237.0" width="1.1" height="1.1" fill="#111"/>
<rect x="103.2" y="249.7" width="1.1" height="1.1" fill="#111"/>
<rect x="86.7" y="296.4" width="1.1" height="1.1" fill="#111"/>
<rect x="119.9" y="241.8" width="1.1" height="1.1" fill="#111"/>
<rect x="132.3" y="232.9" width="1.1" height="1.1" fill="#111"/>
<rect x="142.4" y="235.9" width="1.1" height="1.1" fill="#111"/>
<rect x="106.9" y="250.9" width="1.1" height="1.1" fill="#111"/>
<rect x="99.0" y="262.2" width="1.1" height="1.1" fill="#111"/>
<rect x="151.9" y="231.4" width="1.1" height="1.1" fill="#111"/>
<rect x="131.9" y="233.4" width="1.1" height="1.1" fill="#111"/>
<rect x="98.8" y="263.5" width="1.1" height="1.1" fill="#111"/>
<rect x="122.3" y="235.7" width="1.1" height="1.1" fill="#111"/>
<rect x="151.1" y="235.0" width="1.1" height="1.1" fill="#111"/>
<rect x="152.1" y="229.1" width="1.1" height="1.1" fill="#111"/>
<rect x="140.4" y="244.8" width="1.1" height="1.1" fill="#111"/>
<rect x="133.3" y="238.8" width="1.1" height="1.1" fill="#111"/>
<rect x="91.2" y="280.1" width="1.1" height="1.1" fill="#111"/>
<rect x="119.9" y="241.9" width="1.1" height="1.1" fill="#111"/>
<rect x="110.7" y="243.4" width="1.1" height="1.1" fill="#111"/>
<rect x="111.7" y="248.3" width="1.1" height="1.1" fill="#111"/>
<rect x="132.2" y="240.8" width="1.1" height="1.1" fill="#111"/>
<rect x="114.0" y="242.2" width="1.1" height="1.1" fill="#111"/>
<rect x="115.0" y="243.8" width="1.1" height="1.1" fill="#111"/>
<rect x="94.7" y="272.2" width="1.1" height="1.1" fill="#111"/>
<rect x="143.2" y="231.2" width="1.1" height="1.1" fill="#111"/>
<rect x="145.1" y="231.2" width="1.1" height="1.1" fill="#111"/>
<rect x="107.9" y="251.1" width="1.1" height="1.1" fill="#111"/>
<rect x="124.6" y="241.1" width="1.1" height="1.1" fill="#111"/>
<rect x="139.2" y="232.7" width="1.1" height="1.1" fill="#111"/>
<rect x="110.4" y="239.3" width="1.1" height="1.1" fill="#111"/>
<rect x="89.3" y="291.2" width="1.1" height="1.1" fill="#111"/>
<rect x="104.8" y="247.9" width="1.1" height="1.1" fill="#111"/>
<rect x="103.2" y="251.3" width="1.1" height="1.1" fill="#111"/>
<rect x="132.4" y="235.6" width="1.1" height="1.1" fill="#111"/>
<rect x="135.0" y="236.7" width="1.1" height="1.1" fill="#111"/>
<rect x="147.6" y="239.1" width="1.1" height="1.1" fill="#111"/>
<rect x="135.1" y="237.6" width="1.1" height="1.1" fill="#111"/>
<rect x="124.4" y="240.4" width="1.1" height="1.1" fill="#111"/>
<rect x="118.0" y="240.0" width="1.1" height="1.1" fill="#111"/>
<rect x="111.6" y="243.9" width="1.1" height="1.1" fill="#111"/>
<rect x="99.5" y="259.2" width="1.1" height="1.1" fill="#111"/>
<rect x="100.1" y="267.1" width="1.1" height="1.1" fill="#111"/>
<rect x="129.7" y="229.1" width="1.1" height="1.1" fill="#111"/>
<rect x="153.6" y="229.3" width="1.1" height="1.1" fill="#111"/>
<rect x="150.6" y="230.9" width="1.1" height="1.1" fill="#111"/>
<rect x="99.2" y="259.4" width="1.1" height="1.1" fill="#111"/>
<rect x="119.7" y="235.5" width="1.1" height="1.1" fill="#111"/>
<rect x="93.3" y="280.5" width="1.1" height="1.1" fill="#111"/>
<rect x="140.4" y="235.4" width="1.1" height="1.1" fill="#111"/>
<rect x="126.5" y="237.1" width="1.1" height="1.1" fill="#111"/>
<rect x="115.7" y="237.8" width="1.1" height="1.1" fill="#111"/>
<rect x="117.4" y="238.9" width="1.1" height="1.1" fill="#111"/>
<rect x="137.3" y="236.3" width="1.1" height="1.1" fill="#111"/>
<rect x="115.7" y="242.7" width="1.1" height="1.1" fill="#111"/>
<rect x="152.1" y="235.0" width="1.1" height="1.1" fill="#111"/>
<rect x="145.8" y="236.5" width="1.1" height="1.1" fill="#111"/>
<rect x="143.5" y="238.1" width="1.1" height="1.1" fill="#111"/>
<rect x="96.1" y="269.0" width="1.1" height="1.1" fill="#111"/>
<rect x="104.0" y="249.2" width="1.1" height="1.1" fill="#111"/>
<rect x="111.3" y="243.2" width="1.1" height="1.1" fill="#111"/>
<rect x="87.0" y="295.4" width="1.1" height="1.1" fill="#111"/>
<rect x="153.5" y="234.5" width="1.1" height="1.1" fill="#111"/>
<rect x="101.7" y="255.5" width="1.1" height="1.1" fill="#111"/>
<rect x="103.6" y="249.1" width="1.1" height="1.1" fill="#111"/>
<rect x="95.8" y="270.3" width="1.1" height="1.1" fill="#111"/>
<rect x="145.6" y="242.5" width="1.1" height="1.1" fill="#111"/>
<rect x="140.0" y="238.2" width="1.1" height="1.1" fill="#111"/>
<rect x="106.8" y="250.7" width="1.1" height="1.1" fill="#111"/>
<rect x="144.4" y="234.6" width="1.1" height="1.1" fill="#111"/>
<rect x="114.1" y="247.6" width="1.1" height="1.1" fill="#111"/>
<rect x="132.9" y="242.2" width="1.1" height="1.1" fill="#111"/>
<rect x="152.1" y="236.2" width="1.1" height="1.1" fill="#111"/>
<rect x="106.5" y="245.2" width="1.1" height="1.1" fill="#111"/>
<rect x="108.1" y="243.8" width="1.1" height="1.1" fill="#111"/>
<rect x="106.6" y="247.5" width="1.1" height="1.1" fill="#111"/>
<rect x="108.8" y="248.5" width="1.1" height="1.1" fill="#111"/>
<rect x="89.4" y="288.9" width="1.1" height="1.1" fill="#111"/>
<rect x="93.3" y="280.0" width="1.1" height="1.1" fill="#111"/>
<rect x="131.5" y="236.4" width="1.1" height="1.1" fill="#111"/>
<rect x="112.8" y="247.9" width="1.1" height="1.1" fill="#111"/>
<rect x="143.7" y="234.4" width="1.1" height="1.1" fill="#111"/>
<rect x="117.2" y="239.7" width="1.1" height="1.1" fill="#111"/>
<rect x="136.5" y="241.1" width="1.1" height="1.1" fill="#111"/>
<rect x="150.3" y="236.5" width="1.1" height="1.1" fill="#111"/>
<rect x="111.1" y="243.3" width="1.1" height="1.1" fill="#111"/>
<rect x="142.1" y="237.2" width="1.1" height="1.1" fill="#111"/>
<rect x="91.7" y="281.4" width="1.1" height="1.1" fill="#111"/>
<rect x="92.2" y="279.9" width="1.1" height="1.1" fill="#111"/>
<rect x="136.2" y="237.3" width="1.1" height="1.1" fill="#111"/>
<rect x="115.8" y="244.7" width="1.1" height="1.1" fill="#111"/>
<rect x="110.3" y="244.5" width="1.1" height="1.1" fill="#111"/>
<rect x="138.7" y="238.1" width="1.1" height="1.1" fill="#111"/>
<rect x="130.9" y="234.5" width="1.1" height="1.1" fill="#111"/>
<rect x="112.0" y="246.4" width="1.1" height="1.1" fill="#111"/>
<rect x="109.9" y="246.0" width="1.1" height="1.1" fill="#111"/>
<rect x="134.9" y="246.4" width="1.1" height="1.1" fill="#111"/>
<rect x="88.2" y="292.4" width="1.1" height="1.1" fill="#111"/>
<rect x="91.9" y="283.3" width="1.1" height="1.1" fill="#111"/>
<rect x="150.9" y="231.5" width="1.1" height="1.1" fill="#111"/>
<rect x="95.6" y="270.1" width="1.1" height="1.1" fill="#111"/>
<rect x="119.9" y="236.2" width="1.1" height="1.1" fill="#111"/>
<rect x="112.4" y="246.6" width="1.1" height="1.1" fill="#111"/>
<rect x="115.3" y="241.5" width="1.1" height="1.1" fill="#111"/>
<rect x="128.9" y="233.7" width="1.1" height="1.1" fill="#111"/>
<rect x="121.4" y="242.0" width="1.1" height="1.1" fill="#111"/>
<rect x="127.5" y="246.0" width="1.1" height="1.1" fill="#111"/>
<rect x="135.5" y="240.4" width="1.1" height="1.1" fill="#111"/>
<rect x="111.4" y="247.4" width="1.1" height="1.1" fill="#111"/>
<rect x="142.1" y="236.0" width="1.1" height="1.1" fill="#111"/>
<rect x="130.0" y="236.8" width="1.1" height="1.1" fill="#111"/>
<rect x="142.3" y="237.5" width="1.1" height="1.1" fill="#111"/>
<rect x="90.8" y="289.4" width="1.1" height="1.1" fill="#111"/>
<rect x="123.7" y="241.3" width="1.1" height="1.1" fill="#111"/>
<rect x="99.5" y="254.8" width="1.1" height="1.1" fill="#111"/>
<rect x="132.1" y="236.5" width="1.1" height="1.1" fill="#111"/>
<rect x="135.5" y="233.0" width="1.1" height="1.1" fill="#111"/>
<rect x="147.0" y="231.8" width="1.1" height="1.1" fill="#111"/>
<rect x="129.0" y="240.0" width="1.1" height="1.1" fill="#111"/>
<rect x="132.0" y="239.7" width="1.1" height="1.1" fill="#111"/>
<rect x="137.4" y="239.0" width="1.1" height="1.1" fill="#111"/>
<rect x="120.2" y="241.5" width="1.1" height="1.1" fill="#111"/>
<rect x="87.7" y="292.9" width="1.1" height="1.1" fill="#111"/>
<rect x="86.3" y="295.6" width="1.1" height="1.1" fill="#111"/>
<rect x="100.6" y="261.4" width="1.1" height="1.1" fill="#111"/>
<rect x="123.5" y="230.8" width="1.1" height="1.1" fill="#111"/>
<rect x="92.9" y="279.1" width="1.1" height="1.1" fill="#111"/>
<rect x="143.8" y="241.8" width="1.1" height="1.1" fill="#111"/>
<rect x="107.8" y="251.7" width="1.1" height="1.1" fill="#111"/>
<rect x="95.1" y="271.7" width="1.1" height="1.1" fill="#111"/>
<rect x="151.4" y="239.4" width="1.1" height="1.1" fill="#111"/>
<rect x="110.4" y="255.2" width="1.1" height="1.1" fill="#111"/>
<rect x="133.2" y="234.1" width="1.1" height="1.1" fill="#111"/>
<rect x="95.4" y="267.9" width="1.1" height="1.1" fill="#111"/>
<rect x="100.5" y="262.1" width="1.1" height="1.1" fill="#111"/>
<rect x="99.6" y="261.4" width="1.1" height="1.1" fill="#111"/>
<rect x="107.4" y="247.5" width="1.1" height="1.1" fill="#111"/>
<rect x="96.4" y="271.2" width="1.1" height="1.1" fill="#111"/>
<rect x="129.9" y="237.6" width="1.1" height="1.1" fill="#111"/>
<rect x="150.9" y="232.8" width="1.1" height="1.1" fill="#111"/>
<rect x="131.4" y="234.1" width="1.1" height="1.1" fill="#111"/>
<rect x="132.8" y="236.9" width="1.1" height="1.1" fill="#111"/>
<rect x="100.4" y="252.7" width="1.1" height="1.1" fill="#111"/>
<rect x="135.0" y="237.9" width="1.1" height="1.1" fill="#111"/>
<rect x="152.2" y="233.4" width="1.1" height="1.1" fill="#111"/>
<rect x="146.2" y="234.2" width="1.1" height="1.1" fill="#111"/>
<rect x="87.2" y="293.5" width="1.1" height="1.1" fill="#111"/>
<rect x="151.5" y="237.5" width="1.1" height="1.1" fill="#111"/>
<rect x="140.1" y="229.9" width="1.1" height="1.1" fill="#111"/>
<rect x="132.1" y="236.7" width="1.1" height="1.1" fill="#111"/>
<rect x="131.5" y="241.1" width="1.1" height="1.1" fill="#111"/>
<rect x="92.6" y="280.4" width="1.1" height="1.1" fill="#111"/>
<rect x="92.0" y="283.6" width="1.1" height="1.1" fill="#111"/>
<rect x="97.8" y="258.7" width="1.1" height="1.1" fill="#111"/>
<rect x="122.8" y="240.0" width="1.1" height="1.1" fill="#111"/>
<rect x="142.2" y="233.4" width="1.1" height="1.1" fill="#111"/>
<rect x="86.1" y="296.1" width="1.1" height="1.1" fill="#111"/>
<rect x="103.7" y="251.2" width="1.1" height="1.1" fill="#111"/>
<rect x="138.7" y="244.2" width="1.1" height="1.1" fill="#111"/>
<rect x="145.8" y="232.7" width="1.1" height="1.1" fill="#111"/>
<rect x="104.9" y="253.8" width="1.1" height="1.1" fill="#111"/>
<rect x="98.5" y="259.9" width="1.1" height="1.1" fill="#111"/>
<rect x="106.3" y="246.6" width="1.1" height="1.1" fill="#111"/>
<rect x="127.8" y="233.6" width="1.1" height="1.1" fill="#111"/>
<rect x="90.0" y="285.7" width="1.1" height="1.1" fill="#111"/>
<rect x="93.9" y="277.0" width="1.1" height="1.1" fill="#111"/>
<rect x="152.7" y="226.6" width="1.1" height="1.1" fill="#111"/>
<rect x="107.9" y="243.0" width="1.1" height="1.1" fill="#111"/>
<rect x="132.9" y="238.7" width="1.1" height="1.1" fill="#111"/>
<rect x="95.1" y="270.5" width="1.1" height="1.1" fill="#111"/>
<rect x="130.4" y="245.8" width="1.1" height="1.1" fill="#111"/>
<rect x="127.9" y="237.9" width="1.1" height="1.1" fill="#111"/>
<rect x="85.0" y="295.1" width="1.1" height="1.1" fill="#111"/>
<rect x="125.8" y="236.5" width="1.1" height="1.1" fill="#111"/>
<rect x="142.6" y="232.2" width="1.1" height="1.1" fill="#111"/>
<rect x="99.3" y="262.5" width="1.1" height="1.1" fill="#111"/>
<rect x="105.1" y="251.9" width="1.1" height="1.1" fill="#111"/>
<rect x="97.1" y="267.8" width="1.1" height="1.1" fill="#111"/>
<rect x="116.6" y="240.7" width="1.1" height="1.1" fill="#111"/>
<rect x="91.2" y="280.2" width="1.1" height="1.1" fill="#111"/>
<rect x="137.7" y="236.8" width="1.1" height="1.1" fill="#111"/>
<rect x="128.4" y="234.1" width="1.1" height="1.1" fill="#111"/>
<rect x="105.0" y="242.9" width="1.1" height="1.1" fill="#111"/>
<rect x="109.1" y="254.3" width="1.1" height="1.1" fill="#111"/>
<rect x="135.1" y="236.8" width="1.1" height="1.1" fill="#111"/>
<rect x="126.7" y="235.1" width="1.1" height="1.1" fill="#111"/>
<rect x="133.6" y="241.5" width="1.1" height="1.1" fill="#111"/>
<rect x="130.5" y="238.8" width="1.1" height="1.1" fill="#111"/>
<rect x="114.3" y="247.4" width="1.1" height="1.1" fill="#111"/>
<rect x="134.9" y="233.5" width="1.1" height="1.1" fill="#111"/>
<rect x="88.9" y="291.8" width="1.1" height="1.1" fill="#111"/>
<rect x="112.3" y="241.2" width="1.1" height="1.1" fill="#111"/>
<rect x="137.4" y="233.3" width="1.1" height="1.1" fill="#111"/>
<rect x="126.7" y="235.8" width="1.1" height="1.1" fill="#111"/>
<rect x="102.1" y="249.8" width="1.1" height="1.1" fill="#111"/>
<rect x="130.8" y="235.6" width="1.1" height="1.1" fill="#111"/>
<rect x="131.9" y="236.8" width="1.1" height="1.1" fill="#111"/>
<rect x="86.2" y="296.0" width="1.1" height="1.1" fill="#111"/>
<rect x="123.7" y="238.3" width="1.1" height="1.1" fill="#111"/>
<rect x="107.3" y="245.9" width="1.1" height="1.1" fill="#111"/>
<rect x="135.3" y="231.5" width="1.1" height="1.1" fill="#111"/>
<rect x="87.5" y="292.0" width="1.1" height="1.1" fill="#111"/>
<rect x="145.0" y="234.1" width="1.1" height="1.1" fill="#111"/>
<rect x="135.5" y="233.9" width="1.1" height="1.1" fill="#111"/>
<rect x="108.7" y="250.9" width="1.1" height="1.1" fill="#111"/>
<rect x="103.7" y="248.3" width="1.1" height="1.1" fill="#111"/>
<rect x="116.7" y="244.1" width="1.1" height="1.1" fill="#111"/>
<rect x="92.9" y="279.7" width="1.1" height="1.1" fill="#111"/>
<rect x="146.6" y="233.4" width="1.1" height="1.1" fill="#111"/>
<rect x="146.5" y="236.1" width="1.1" height="1.1" fill="#111"/>
<rect x="108.7" y="242.1" width="1.1" height="1.1" fill="#111"/>
<rect x="104.9" y="249.6" width="1.1" height="1.1" fill="#111"/>
<rect x="94.9" y="268.0" width="1.1" height="1.1" fill="#111"/>
<rect x="145.4" y="235.4" width="1.1" height="1.1" fill="#111"/>
<rect x="90.9" y="286.1" width="1.1" height="1.1" fill="#111"/>
<rect x="152.2" y="236.3" width="1.1" height="1.1" fill="#111"/>
<rect x="104.8" y="249.4" width="1.1" height="1.1" fill="#111"/>
<rect x="134.8" y="234.0" width="1.1" height="1.1" fill="#111"/>
<rect x="144.6" y="232.8" width="1.1" height="1.1" fill="#111"/>
<rect x="87.8" y="295.0" width="1.1" height="1.1" fill="#111"/>
<rect x="113.7" y="239.2" width="1.1" height="1.1" fill="#111"/>
<rect x="97.1" y="268.9" width="1.1" height="1.1" fill="#111"/>
<rect x="144.1" y="236.8" width="1.1" height="1.1" fill="#111"/>
<rect x="112.9" y="240.7" width="1.1" height="1.1" fill="#111"/>
<rect x="110.5" y="247.3" width="1.1" height="1.1" fill="#111"/>
<rect x="100.5" y="256.6" width="1.1" height="1.1" fill="#111"/>
<rect x="132.9" y="240.0" width="1.1" height="1.1" fill="#111"/>
<rect x="133.6" y="235.3" width="1.1" height="1.1" fill="#111"/>
<rect x="151.7" y="233.7" width="1.1" height="1.1" fill="#111"/>
<rect x="113.9" y="238.2" width="1.1" height="1.1" fill="#111"/>
<rect x="133.1" y="231.2" width="1.1" height="1.1" fill="#111"/>
<rect x="139.3" y="231.5" width="1.1" height="1.1" fill="#111"/>
<rect x="132.5" y="238.7" width="1.1" height="1.1" fill="#111"/>
<rect x="151.4" y="235.4" width="1.1" height="1.1" fill="#111"/>
<rect x="103.4" y="253.9" width="1.1" height="1.1" fill="#111"/>
<rect x="125.6" y="236.4" width="1.1" height="1.1" fill="#111"/>
<rect x="89.7" y="289.8" width="1.1" height="1.1" fill="#111"/>
<rect x="115.3" y="242.2" width="1.1" height="1.1" fill="#111"/>
<rect x="135.8" y="236.5" width="1.1" height="1.1" fill="#111"/>
<rect x="107.0" y="250.4" width="1.1" height="1.1" fill="#111"/>
<rect x="93.7" y="281.5" width="1.1" height="1.1" fill="#111"/>
<rect x="127.8" y="239.1" width="1.1" height="1.1" fill="#111"/>
<rect x="126.7" y="244.7" width="1.1" height="1.1" fill="#111"/>
<rect x="151.5" y="231.9" width="1.1" height="1.1" fill="#111"/>
<rect x="146.5" y="234.5" width="1.1" height="1.1" fill="#111"/>
<rect x="122.0" y="237.7" width="1.1" height="1.1" fill="#111"/>
<rect x="152.8" y="232.4" width="1.1" height="1.1" fill="#111"/>
<rect x="116.2" y="240.6" width="1.1" height="1.1" fill="#111"/>
<rect x="99.1" y="257.6" width="1.1" height="1.1" fill="#111"/>
<rect x="112.6" y="239.4" width="1.1" height="1.1" fill="#111"/>
<rect x="140.9" y="230.5" width="1.1" height="1.1" fill="#111"/>
<rect x="127.9" y="231.9" width="1.1" height="1.1" fill="#111"/>
<rect x="90.5" y="288.9" width="1.1" height="1.1" fill="#111"/>
<rect x="109.3" y="240.6" width="1.1" height="1.1" fill="#111"/>
<rect x="132.7" y="233.1" width="1.1" height="1.1" fill="#111"/>
<rect x="104.3" y="253.0" width="1.1" height="1.1" fill="#111"/>
<rect x="144.5" y="234.9" width="1.1" height="1.1" fill="#111"/>
<rect x="90.0" y="289.5" width="1.1" height="1.1" fill="#111"/>
<rect x="107.3" y="252.4" width="1.1" height="1.1" fill="#111"/>
<rect x="119.1" y="241.3" width="1.1" height="1.1" fill="#111"/>
<rect x="103.6" y="252.8" width="1.1" height="1.1" fill="#111"/>
<rect x="106.2" y="247.9" width="1.1" height="1.1" fill="#111"/>
<rect x="135.2" y="234.0" width="1.1" height="1.1" fill="#111"/>
<rect x="126.8" y="239.2" width="1.1" height="1.1" fill="#111"/>
<rect x="145.5" y="228.7" width="1.1" height="1.1" fill="#111"/>
<rect x="117.3" y="240.6" width="1.1" height="1.1" fill="#111"/>
<rect x="127.9" y="238.6" width="1.1" height="1.1" fill="#111"/>
<rect x="96.5" y="270.6" width="1.1" height="1.1" fill="#111"/>
<rect x="103.0" y="254.3" width="1.1" height="1.1" fill="#111"/>
<rect x="142.5" y="233.5" width="1.1" height="1.1" fill="#111"/>
<rect x="126.3" y="241.8" width="1.1" height="1.1" fill="#111"/>
<rect x="111.8" y="245.5" width="1.1" height="1.1" fill="#111"/>
<rect x="123.7" y="236.6" width="1.1" height="1.1" fill="#111"/>
<rect x="144.0" y="231.0" width="1.1" height="1.1" fill="#111"/>
<rect x="132.4" y="242.0" width="1.1" height="1.1" fill="#111"/>
<rect x="136.6" y="243.5" width="1.1" height="1.1" fill="#111"/>
<rect x="104.3" y="252.1" width="1.1" height="1.1" fill="#111"/>
<rect x="140.4" y="234.1" width="1.1" height="1.1" fill="#111"/>
<rect x="97.9" y="263.9" width="1.1" height="1.1" fill="#111"/>
<rect x="116.4" y="241.4" width="1.1" height="1.1" fill="#111"/>
<rect x="105.4" y="256.2" width="1.1" height="1.1" fill="#111"/>
<rect x="118.0" y="235.0" width="1.1" height="1.1" fill="#111"/>
<rect x="147.5" y="232.6" width="1.1" height="1.1" fill="#111"/>
<rect x="89.0" y="285.8" width="1.1" height="1.1" fill="#111"/>
<rect x="99.8" y="259.2" width="1.1" height="1.1" fill="#111"/>
<rect x="101.0" y="252.5" width="1.1" height="1.1" fill="#111"/>
<rect x="141.5" y="236.9" width="1.1" height="1.1" fill="#111"/>
<rect x="107.9" y="247.2" width="1.1" height="1.1" fill="#111"/>
<rect x="107.1" y="245.1" width="1.1" height="1.1" fill="#111"/>
<rect x="116.9" y="239.6" width="1.1" height="1.1" fill="#111"/>
<rect x="108.2" y="243.0" width="1.1" height="1.1" fill="#111"/>
<rect x="109.3" y="246.2" width="1.1" height="1.1" fill="#111"/>
<rect x="113.6" y="238.5" width="1.1" height="1.1" fill="#111"/>
<rect x="86.6" y="294.9" width="1.1" height="1.1" fill="#111"/>
<rect x="109.5" y="243.0" width="1.1" height="1.1" fill="#111"/>
<rect x="85.1" y="295.9" width="1.1" height="1.1" fill="#111"/>
<rect x="143.4" y="240.5" width="1.1" height="1.1" fill="#111"/>
<rect x="148.5" y="236.1" width="1.1" height="1.1" fill="#111"/>
<rect x="144.2" y="233.9" width="1.1" height="1.1" fill="#111"/>
<rect x="113.5" y="244.3" width="1.1" height="1.1" fill="#111"/>
<rect x="142.8" y="233.5" width="1.1" height="1.1" fill="#111"/>
<rect x="123.0" y="231.7" width="1.1" height="1.1" fill="#111"/>
<rect x="100.2" y="255.7" width="1.1" height="1.1" fill="#111"/>
<rect x="89.7" y="285.4" width="1.1" height="1.1" fill="#111"/>
<rect x="114.9" y="246.6" width="1.1" height="1.1" fill="#111"/>
<rect x="99.9" y="256.6" width="1.1" height="1.1" fill="#111"/>
<rect x="120.3" y="240.8" width="1.1" height="1.1" fill="#111"/>
<rect x="133.0" y="241.5" width="1.1" height="1.1" fill="#111"/>
<rect x="145.3" y="238.0" width="1.1" height="1.1" fill="#111"/>
<rect x="137.0" y="236.0" width="1.1" height="1.1" fill="#111"/>
<rect x="148.8" y="239.2" width="1.1" height="1.1" fill="#111"/>
<rect x="110.3" y="237.7" width="1.1" height="1.1" fill="#111"/>
<rect x="99.8" y="260.4" width="1.1" height="1.1" fill="#111"/>
<rect x="128.6" y="235.7" width="1.1" height="1.1" fill="#111"/>
<rect x="108.5" y="248.4" width="1.1" height="1.1" fill="#111"/>
<rect x="139.3" y="233.5" width="1.1" height="1.1" fill="#111"/>
<rect x="139.3" y="242.7" width="1.1" height="1.1" fill="#111"/>
<rect x="122.6" y="243.6" width="1.1" height="1.1" fill="#111"/>
<rect x="87.0" y="292.6" width="1.1" height="1.1" fill="#111"/>
<rect x="108.1" y="245.7" width="1.1" height="1.1" fill="#111"/>
<rect x="99.8" y="256.6" width="1.1" height="1.1" fill="#111"/>
<rect x="134.9" y="235.9" width="1.1" height="1.1" fill="#111"/>
<rect x="145.1" y="231.6" width="1.1" height="1.1" fill="#111"/>
<rect x="137.9" y="238.3" width="1.1" height="1.1" fill="#111"/>
<rect x="133.6" y="238.2" width="1.1" height="1.1" fill="#111"/>
<rect x="127.0" y="234.3" width="1.1" height="1.1" fill="#111"/>
<rect x="132.9" y="238.0" width="1.1" height="1.1" fill="#111"/>
<rect x="90.3" y="284.9" width="1.1" height="1.1" fill="#111"/>
<rect x="146.8" y="230.6" width="1.1" height="1.1" fill="#111"/>
<polyline fill="none" stroke="#111" stroke-width="1.8" stroke-linejoin="round" points="56.0,298.4 56.2,298.4 56.5,298.4 56.7,298.4 57.0,298.4 57.2,298.4 57.5,298.4 57.7,298.4 58.0,298.4 58.2,298.4 58.5,298.4 58.7,298.4 58.9,298.4 59.2,298.4 59.4,298.4 59.7,298.4 59.9,298.4 60.2,298.4 60.4,298.4 60.7,298.4 60.9,298.4 61.2,298.4 61.4,298.4 61.6,298.4 61.9,298.4 62.1,298.4 62.4,298.4 62.6,298.4 62.9,298.4 63.1,298.4 63.4,298.4 63.6,298.4 63.9,298.4 64.1,298.4 64.4,298.4 64.6,298.4 64.8,298.4 65.1,298.4 65.3,298.4 65.6,298.4 65.8,298.4 66.1,298.4 66.3,298.4 66.6,298.4 66.8,298.4 67.1,298.4 67.3,298.4 67.5,298.4 67.8,298.4 68.0,298.4 68.3,298.4 68.5,298.4 68.8,298.4 69.0,298.4 69.3,298.4 69.5,298.4 69.8,298.4 70.0,298.4 70.2,298.4 70.5,298.4 70.7,298.4 71.0,298.4 71.2,298.4 71.5,298.4 71.7,298.4 72.0,298.4 72.2,298.4 72.5,298.4 72.7,298.4 72.9,298.4 73.2,298.4 73.4,298.4 73.7,298.4 73.9,298.4 74.2,298.4 74.4,298.4 74.7,298.4 74.9,298.4 75.2,298.4 75.4,298.4 75.6,298.4 75.9,298.4 76.1,298.4 76.4,298.4 76.6,298.4 76.9,298.4 77.1,298.4 77.4,298.4 77.6,298.4 77.9,298.3 78.1,298.3 78.4,298.3 78.6,298.3 78.8,298.3 79.1,298.3 79.3,298.3 79.6,298.3 79.8,298.3 80.1,298.3 80.3,298.3 80.6,298.3 80.8,298.3 81.1,298.3 81.3,298.3 81.5,298.3 81.8,298.3 82.0,298.3 82.3,298.3 82.5,298.3 82.8,298.3 83.0,298.3 83.3,298.3 83.5,298.3 83.8,298.3 84.0,298.3 84.2,298.2 84.5,298.1 84.7,297.9 85.0,297.6 85.2,297.3 85.5,297.0 85.7,296.7 86.0,296.3 86.2,296.0 86.5,295.7 86.7,295.3 86.9,295.0 87.2,294.5 87.4,294.1 87.7,293.6 87.9,293.1 88.2,292.6 88.4,291.9 88.7,291.2 88.9,290.5 89.2,289.8 89.4,289.0 89.6,288.2 89.9,287.4"/>
<polyline fill="none" stroke="#d01c1c" stroke-width="1.8" stroke-linejoin="round" points="56.0,297.7 56.2,297.7 56.5,297.7 56.7,297.7 57.0,297.7 57.2,297.7 57.5,297.7 57.7,297.7 58.0,297.7 58.2,297.7 58.5,297.7 58.7,297.7 58.9,297.7 59.2,297.7 59.4,297.7 59.7,297.7 59.9,297.7 60.2,297.7 60.4,297.7 60.7,297.7 60.9,297.7 61.2,297.7 61.4,297.7 61.6,297.7 61.9,297.7 62.1,297.7 62.4,297.7 62.6,297.7 62.9,297.7 63.1,297.7 63.4,297.7 63.6,297.7 63.9,297.7 64.1,297.7 64.4,297.7 64.6,297.7 64.8,297.7 65.1,297.7 65.3,297.7 65.6,297.7 65.8,297.7 66.1,297.7 66.3,297.7 66.6,297.7 66.8,297.7 67.1,297.7 67.3,297.7 67.5,297.7 67.8,297.7 68.0,297.7 68.3,297.7 68.5,297.7 68.8,297.7 69.0,297.7 69.3,297.7 69.5,297.7 69.8,297.7 70.0,297.7 70.2,297.7 70.5,297.7 70.7,297.7 71.0,297.7 71.2,297.7 71.5,297.7 71.7,297.7 72.0,297.7 72.2,297.7 72.5,297.7 72.7,297.7 72.9,297.7 73.2,297.7 73.4,297.7 73.7,297.7 73.9,297.7 74.2,297.7 74.4,297.7 74.7,297.7 74.9,297.7 75.2,297.7 75.4,297.7 75.6,297.7 75.9,297.7 76.1,297.7 76.4,297.7 76.6,297.7 76.9,297.7 77.1,297.7 77.4,297.7 77.6,297.7 77.9,297.6 78.1,297.6 78.4,297.6 78.6,297.6 78.8,297.6 79.1,297.6 79.3,297.6 79.6,297.6 79.8,297.6 80.1,297.6 80.3,297.6 80.6,297.6 80.8,297.6 81.1,297.6 81.3,297.6 81.5,297.6 81.8,297.6 82.0,297.6 82.3,297.6 82.5,297.6 82.8,297.6 83.0,297.6 83.3,297.6 83.5,297.6 83.8,297.6 84.0,297.6 84.2,297.6 84.5,297.5 84.7,297.4 85.0,297.3 85.2,297.2 85.5,297.0 85.7,296.9 86.0,296.7 86.2,296.5 86.5,296.3 86.7,296.1 86.9,295.9 87.2,295.7 87.4,295.4 87.7,295.1 87.9,294.8 88.2,294.5 88.4,294.1 88.7,293.8 88.9,293.3 89.2,292.9 89.4,292.4 89.6,291.8 89.9,291.2 90.1,290.5 90.4,289.8 90.6,289.1 90.9,288.3 91.1,287.5 91.4,286.8 91.6,286.0 91.9,285.3 92.1,284.6 92.4,283.9 92.6,283.1 92.8,282.4 93.1,281.6 93.3,280.9 93.6,280.1 93.8,279.4 94.1,278.6 94.3,277.8 94.6,277.1 94.8,276.3 95.1,275.5 95.3,274.8 95.5,274.0 95.8,273.2 96.0,272.4 96.3,271.6 96.5,270.8 96.8,270.0 97.0,269.2 97.3,268.5 97.5,267.8 97.8,267.1 98.0,266.4 98.2,265.7 98.5,265.1 98.7,264.4 99.0,263.8 99.2,263.2 99.5,262.6 99.7,262.0 100.0,261.4 100.2,260.9 100.5,260.3 100.7,259.8 100.9,259.2 101.2,258.7 101.4,258.2 101.7,257.7 101.9,257.2 102.2,256.7 102.4,256.2 102.7,255.8 102.9,255.3 103.2,254.9 103.4,254.5 103.6,254.1 103.9,253.8 104.1,253.4 104.4,253.0 104.6,252.7 104.9,252.3 105.1,252.0 105.4,251.7 105.6,251.4 105.9,251.1 106.1,250.8 106.4,250.5 106.6,250.3 106.8,250.0 107.1,249.8 107.3,249.6 107.6,249.3 107.8,249.1 108.1,248.9 108.3,248.7 108.6,248.5 108.8,248.3 109.1,248.1 109.3,247.9 109.5,247.7 109.8,247.5 110.0,247.3 110.3,247.2 110.5,247.0 110.8,246.8 111.0,246.7 111.3,246.5 111.5,246.3 111.8,246.2 112.0,246.0 112.2,245.9 112.5,245.7 112.7,245.6 113.0,245.5 113.2,245.3 113.5,245.2 113.7,245.1 114.0,244.9 114.2,244.8 114.5,244.7 114.7,244.6 114.9,244.4 115.2,244.3 115.4,244.2 115.7,244.1 115.9,243.9 116.2,243.8 116.4,243.7 116.7,243.6 116.9,243.5 117.2,243.3 117.4,243.2 117.6,243.1 117.9,243.0 118.1,242.9 118.4,242.8 118.6,242.7 118.9,242.6 119.1,242.5 119.4,242.3 119.6,242.2 119.9,242.1 120.1,242.0 120.4,241.9 120.6,241.8 120.8,241.7 121.1,241.6 121.3,241.6 121.6,241.5 121.8,241.4 122.1,241.3 122.3,241.2 122.6,241.1 122.8,241.0 123.1,240.9 123.3,240.8 123.5,240.7 123.8,240.7 124.0,240.6 124.3,240.5 124.5,240.4 124.8,240.3 125.0,240.2 125.3,240.2 125.5,240.1 125.8,240.0 126.0,239.9 126.2,239.8 126.5,239.8 126.7,239.7 127.0,239.6 127.2,239.5 127.5,239.5 127.7,239.4 128.0,239.3 128.2,239.3 128.5,239.2 128.7,239.1 128.9,239.1 129.2,239.0 129.4,238.9 129.7,238.9 129.9,238.8 130.2,238.8 130.4,238.7 130.7,238.6 130.9,238.6 131.2,238.5 131.4,238.5 131.6,238.4 131.9,238.4 132.1,238.3 132.4,238.3 132.6,238.2 132.9,238.2 133.1,238.1 133.4,238.1 133.6,238.0 133.9,238.0 134.1,237.9 134.4,237.9 134.6,237.8 134.8,237.8 135.1,237.7 135.3,237.7 135.6,237.7 135.8,237.6 136.1,237.6 136.3,237.5 136.6,237.5 136.8,237.4 137.1,237.4 137.3,237.4 137.5,237.3 137.8,237.3 138.0,237.2 138.3,237.2 138.5,237.1 138.8,237.1 139.0,237.1 139.3,237.0 139.5,237.0 139.8,237.0 140.0,236.9 140.2,236.9 140.5,236.8 140.7,236.8 141.0,236.8 141.2,236.7 141.5,236.7 141.7,236.6 142.0,236.6 142.2,236.6 142.5,236.5 142.7,236.5 142.9,236.5 143.2,236.4 143.4,236.4 143.7,236.3 143.9,236.3 144.2,236.3 144.4,236.2 144.7,236.2 144.9,236.2 145.2,236.1 145.4,236.1 145.6,236.1 145.9,236.0 146.1,236.0 146.4,236.0 146.6,235.9 146.9,235.9 147.1,235.9 147.4,235.8 147.6,235.8 147.9,235.7 148.1,235.7 148.4,235.7 148.6,235.7 148.8,235.6 149.1,235.6 149.3,235.6 149.6,235.5 149.8,235.5 150.1,235.5 150.3,235.4 150.6,235.4 150.8,235.4 151.1,235.3 151.3,235.3 151.5,235.3 151.8,235.3 152.0,235.2 152.3,235.2 152.5,235.2 152.8,235.1 153.0,235.1 153.3,235.1 153.5,235.1 153.8,235.0 154.0,235.0"/>
<rect x="144.3" y="234.8" width="1.1" height="1.1" fill="#e02222"/>
<rect x="151.4" y="235.4" width="1.1" height="1.1" fill="#e02222"/>
<rect x="96.9" y="270.2" width="1.1" height="1.1" fill="#e02222"/>
<rect x="149.0" y="238.2" width="1.1" height="1.1" fill="#e02222"/>
<rect x="107.1" y="248.4" width="1.1" height="1.1" fill="#e02222"/>
<rect x="115.5" y="243.2" width="1.1" height="1.1" fill="#e02222"/>
<rect x="96.4" y="272.5" width="1.1" height="1.1" fill="#e02222"/>
<rect x="118.7" y="242.2" width="1.1" height="1.1" fill="#e02222"/>
<rect x="145.9" y="236.5" width="1.1" height="1.1" fill="#e02222"/>
<rect x="107.2" y="248.1" width="1.1" height="1.1" fill="#e02222"/>
<rect x="104.7" y="250.3" width="1.1" height="1.1" fill="#e02222"/>
<rect x="108.8" y="246.7" width="1.1" height="1.1" fill="#e02222"/>
<rect x="148.8" y="236.6" width="1.1" height="1.1" fill="#e02222"/>
<rect x="103.4" y="254.8" width="1.1" height="1.1" fill="#e02222"/>
<rect x="127.7" y="238.8" width="1.1" height="1.1" fill="#e02222"/>
<rect x="136.7" y="235.6" width="1.1" height="1.1" fill="#e02222"/>
<rect x="127.9" y="240.1" width="1.1" height="1.1" fill="#e02222"/>
<rect x="123.0" y="241.7" width="1.1" height="1.1" fill="#e02222"/>
<rect x="121.0" y="238.0" width="1.1" height="1.1" fill="#e02222"/>
<rect x="130.3" y="240.5" width="1.1" height="1.1" fill="#e02222"/>
<rect x="139.4" y="238.2" width="1.1" height="1.1" fill="#e02222"/>
<rect x="138.9" y="240.7" width="1.1" height="1.1" fill="#e02222"/>
<rect x="106.4" y="252.6" width="1.1" height="1.1" fill="#e02222"/>
<rect x="121.2" y="242.5" width="1.1" height="1.1" fill="#e02222"/>
<rect x="111.6" y="245.8" width="1.1" height="1.1" fill="#e02222"/>
<rect x="108.8" y="249.0" width="1.1" height="1.1" fill="#e02222"/>
<rect x="122.7" y="239.4" width="1.1" height="1.1" fill="#e02222"/>
<rect x="97.6" y="265.9" width="1.1" height="1.1" fill="#e02222"/>
<rect x="123.0" y="240.6" width="1.1" height="1.1" fill="#e02222"/>
<rect x="134.2" y="236.3" width="1.1" height="1.1" fill="#e02222"/>
<rect x="152.5" y="236.6" width="1.1" height="1.1" fill="#e02222"/>
<rect x="148.9" y="235.9" width="1.1" height="1.1" fill="#e02222"/>
<rect x="109.6" y="250.5" width="1.1" height="1.1" fill="#e02222"/>
<rect x="143.8" y="237.0" width="1.1" height="1.1" fill="#e02222"/>
<rect x="101.4" y="258.0" width="1.1" height="1.1" fill="#e02222"/>
<rect x="102.9" y="253.7" width="1.1" height="1.1" fill="#e02222"/>
<rect x="111.2" y="244.0" width="1.1" height="1.1" fill="#e02222"/>
<rect x="140.1" y="237.4" width="1.1" height="1.1" fill="#e02222"/>
<rect x="138.7" y="237.6" width="1.1" height="1.1" fill="#e02222"/>
<rect x="99.1" y="262.6" width="1.1" height="1.1" fill="#e02222"/>
<rect x="120.3" y="241.4" width="1.1" height="1.1" fill="#e02222"/>
<rect x="120.6" y="243.8" width="1.1" height="1.1" fill="#e02222"/>
<rect x="142.0" y="235.9" width="1.1" height="1.1" fill="#e02222"/>
<rect x="107.5" y="249.8" width="1.1" height="1.1" fill="#e02222"/>
<rect x="149.6" y="233.1" width="1.1" height="1.1" fill="#e02222"/>
<rect x="109.7" y="247.5" width="1.1" height="1.1" fill="#e02222"/>
<rect x="145.8" y="234.9" width="1.1" height="1.1" fill="#e02222"/>
<rect x="144.9" y="237.4" width="1.1" height="1.1" fill="#e02222"/>
<rect x="107.9" y="249.2" width="1.1" height="1.1" fill="#e02222"/>
<rect x="149.9" y="238.0" width="1.1" height="1.1" fill="#e02222"/>
<rect x="125.0" y="240.2" width="1.1" height="1.1" fill="#e02222"/>
<rect x="120.6" y="243.0" width="1.1" height="1.1" fill="#e02222"/>
<rect x="122.2" y="240.7" width="1.1" height="1.1" fill="#e02222"/>
<rect x="149.8" y="235.3" width="1.1" height="1.1" fill="#e02222"/>
<rect x="131.3" y="237.1" width="1.1" height="1.1" fill="#e02222"/>
<rect x="122.4" y="243.1" width="1.1" height="1.1" fill="#e02222"/>
<rect x="100.0" y="261.1" width="1.1" height="1.1" fill="#e02222"/>
<rect x="115.1" y="245.1" width="1.1" height="1.1" fill="#e02222"/>
<rect x="99.6" y="260.0" width="1.1" height="1.1" fill="#e02222"/>
<rect x="127.6" y="238.5" width="1.1" height="1.1" fill="#e02222"/>
<rect x="150.6" y="236.1" width="1.1" height="1.1" fill="#e02222"/>
<rect x="108.5" y="250.0" width="1.1" height="1.1" fill="#e02222"/>
<rect x="113.4" y="243.8" width="1.1" height="1.1" fill="#e02222"/>
<rect x="125.1" y="241.6" width="1.1" height="1.1" fill="#e02222"/>
<rect x="103.1" y="254.7" width="1.1" height="1.1" fill="#e02222"/>
<rect x="113.2" y="243.2" width="1.1" height="1.1" fill="#e02222"/>
<rect x="125.0" y="241.5" width="1.1" height="1.1" fill="#e02222"/>
<rect x="154.6" y="236.1" width="1.1" height="1.1" fill="#e02222"/>
<rect x="135.5" y="238.0" width="1.1" height="1.1" fill="#e02222"/>
<rect x="124.6" y="239.0" width="1.1" height="1.1" fill="#e02222"/>
<rect x="122.2" y="242.4" width="1.1" height="1.1" fill="#e02222"/>
<rect x="125.4" y="241.7" width="1.1" height="1.1" fill="#e02222"/>
<rect x="150.1" y="236.7" width="1.1" height="1.1" fill="#e02222"/>
<rect x="114.8" y="244.5" width="1.1" height="1.1" fill="#e02222"/>
<rect x="130.8" y="239.0" width="1.1" height="1.1" fill="#e02222"/>
<rect x="124.0" y="239.3" width="1.1" height="1.1" fill="#e02222"/>
<rect x="146.1" y="235.3" width="1.1" height="1.1" fill="#e02222"/>
<rect x="151.9" y="236.6" width="1.1" height="1.1" fill="#e02222"/>
<rect x="139.7" y="237.6" width="1.1" height="1.1" fill="#e02222"/>
<rect x="144.0" y="235.6" width="1.1" height="1.1" fill="#e02222"/>
<rect x="151.6" y="235.1" width="1.1" height="1.1" fill="#e02222"/>
<rect x="144.4" y="236.1" width="1.1" height="1.1" fill="#e02222"/>
<rect x="132.0" y="239.0" width="1.1" height="1.1" fill="#e02222"/>
<rect x="110.7" y="248.2" width="1.1" height="1.1" fill="#e02222"/>
<rect x="129.6" y="240.2" width="1.1" height="1.1" fill="#e02222"/>
<rect x="138.3" y="237.4" width="1.1" height="1.1" fill="#e02222"/>
<rect x="145.3" y="238.8" width="1.1" height="1.1" fill="#e02222"/>
<rect x="144.5" y="236.7" width="1.1" height="1.1" fill="#e02222"/>
<rect x="136.5" y="236.2" width="1.1" height="1.1" fill="#e02222"/>
<rect x="104.2" y="254.0" width="1.1" height="1.1" fill="#e02222"/>
<rect x="146.4" y="236.3" width="1.1" height="1.1" fill="#e02222"/>
<rect x="107.1" y="250.2" width="1.1" height="1.1" fill="#e02222"/>
<rect x="114.6" y="247.7" width="1.1" height="1.1" fill="#e02222"/>
<rect x="115.8" y="242.1" width="1.1" height="1.1" fill="#e02222"/>
<rect x="131.2" y="239.6" width="1.1" height="1.1" fill="#e02222"/>
<rect x="120.7" y="242.0" width="1.1" height="1.1" fill="#e02222"/>
<rect x="134.1" y="240.2" width="1.1" height="1.1" fill="#e02222"/>
<rect x="112.1" y="245.4" width="1.1" height="1.1" fill="#e02222"/>
<rect x="100.5" y="260.9" width="1.1" height="1.1" fill="#e02222"/>
<rect x="139.5" y="236.0" width="1.1" height="1.1" fill="#e02222"/>
<rect x="101.0" y="258.1" width="1.1" height="1.1" fill="#e02222"/>
<rect x="124.6" y="242.9" width="1.1" height="1.1" fill="#e02222"/>
<rect x="123.9" y="240.4" width="1.1" height="1.1" fill="#e02222"/>
<rect x="145.2" y="235.8" width="1.1" height="1.1" fill="#e02222"/>
<rect x="98.3" y="265.1" width="1.1" height="1.1" fill="#e02222"/>
<rect x="143.6" y="237.0" width="1.1" height="1.1" fill="#e02222"/>
<rect x="143.4" y="233.9" width="1.1" height="1.1" fill="#e02222"/>
<rect x="108.0" y="248.9" width="1.1" height="1.1" fill="#e02222"/>
<rect x="116.3" y="240.3" width="1.1" height="1.1" fill="#e02222"/>
<rect x="129.8" y="239.4" width="1.1" height="1.1" fill="#e02222"/>
<rect x="139.8" y="236.2" width="1.1" height="1.1" fill="#e02222"/>
<rect x="135.7" y="239.4" width="1.1" height="1.1" fill="#e02222"/>
<rect x="144.8" y="236.6" width="1.1" height="1.1" fill="#e02222"/>
<rect x="128.8" y="239.4" width="1.1" height="1.1" fill="#e02222"/>
<rect x="99.7" y="259.4" width="1.1" height="1.1" fill="#e02222"/>
<rect x="110.8" y="246.6" width="1.1" height="1.1" fill="#e02222"/>
<rect x="144.2" y="235.3" width="1.1" height="1.1" fill="#e02222"/>
<rect x="154.6" y="235.0" width="1.1" height="1.1" fill="#e02222"/>
<rect x="117.1" y="242.8" width="1.1" height="1.1" fill="#e02222"/>
<rect x="123.7" y="240.5" width="1.1" height="1.1" fill="#e02222"/>
<rect x="155.0" y="234.9" width="1.1" height="1.1" fill="#e02222"/>
<rect x="118.7" y="243.8" width="1.1" height="1.1" fill="#e02222"/>
<rect x="154.1" y="233.5" width="1.1" height="1.1" fill="#e02222"/>
<rect x="131.2" y="236.4" width="1.1" height="1.1" fill="#e02222"/>
<rect x="128.3" y="239.9" width="1.1" height="1.1" fill="#e02222"/>
<rect x="139.3" y="236.2" width="1.1" height="1.1" fill="#e02222"/>
<rect x="96.2" y="270.1" width="1.1" height="1.1" fill="#e02222"/>
<rect x="113.1" y="246.7" width="1.1" height="1.1" fill="#e02222"/>
<rect x="97.7" y="267.1" width="1.1" height="1.1" fill="#e02222"/>
<rect x="130.5" y="238.8" width="1.1" height="1.1" fill="#e02222"/>
<rect x="118.7" y="242.1" width="1.1" height="1.1" fill="#e02222"/>
<rect x="117.6" y="244.0" width="1.1" height="1.1" fill="#e02222"/>
<rect x="118.0" y="244.2" width="1.1" height="1.1" fill="#e02222"/>
<rect x="132.2" y="240.3" width="1.1" height="1.1" fill="#e02222"/>
<rect x="131.5" y="237.0" width="1.1" height="1.1" fill="#e02222"/>
<rect x="119.4" y="241.2" width="1.1" height="1.1" fill="#e02222"/>
<rect x="139.4" y="234.6" width="1.1" height="1.1" fill="#e02222"/>
<rect x="100.9" y="260.3" width="1.1" height="1.1" fill="#e02222"/>
<rect x="113.5" y="246.7" width="1.1" height="1.1" fill="#e02222"/>
<rect x="146.1" y="237.0" width="1.1" height="1.1" fill="#e02222"/>
<rect x="137.1" y="237.2" width="1.1" height="1.1" fill="#e02222"/>
<rect x="151.1" y="237.0" width="1.1" height="1.1" fill="#e02222"/>
<rect x="120.7" y="241.1" width="1.1" height="1.1" fill="#e02222"/>
<rect x="144.0" y="238.4" width="1.1" height="1.1" fill="#e02222"/>
<rect x="98.5" y="264.7" width="1.1" height="1.1" fill="#e02222"/>
<rect x="139.3" y="237.6" width="1.1" height="1.1" fill="#e02222"/>
<rect x="145.7" y="235.7" width="1.1" height="1.1" fill="#e02222"/>
<rect x="120.1" y="241.2" width="1.1" height="1.1" fill="#e02222"/>
<rect x="104.4" y="253.6" width="1.1" height="1.1" fill="#e02222"/>
<rect x="110.7" y="248.5" width="1.1" height="1.1" fill="#e02222"/>
<rect x="119.2" y="243.3" width="1.1" height="1.1" fill="#e02222"/>
<rect x="136.2" y="235.3" width="1.1" height="1.1" fill="#e02222"/>
<rect x="130.5" y="241.3" width="1.1" height="1.1" fill="#e02222"/>
<rect x="109.7" y="247.5" width="1.1" height="1.1" fill="#e02222"/>
<rect x="115.7" y="244.2" width="1.1" height="1.1" fill="#e02222"/>
<rect x="101.6" y="259.2" width="1.1" height="1.1" fill="#e02222"/>
<rect x="133.7" y="239.0" width="1.1" height="1.1" fill="#e02222"/>
<rect x="102.8" y="256.8" width="1.1" height="1.1" fill="#e02222"/>
<rect x="123.8" y="239.7" width="1.1" height="1.1" fill="#e02222"/>
<rect x="97.8" y="266.1" width="1.1" height="1.1" fill="#e02222"/>
<rect x="143.9" y="235.1" width="1.1" height="1.1" fill="#e02222"/>
<rect x="126.9" y="238.8" width="1.1" height="1.1" fill="#e02222"/>
<rect x="153.7" y="234.8" width="1.1" height="1.1" fill="#e02222"/>
<rect x="124.7" y="242.2" width="1.1" height="1.1" fill="#e02222"/>
<rect x="128.2" y="240.6" width="1.1" height="1.1" fill="#e02222"/>
<rect x="111.4" y="247.4" width="1.1" height="1.1" fill="#e02222"/>
<rect x="118.4" y="241.5" width="1.1" height="1.1" fill="#e02222"/>
<rect x="96.7" y="270.6" width="1.1" height="1.1" fill="#e02222"/>
<rect x="103.9" y="254.9" width="1.1" height="1.1" fill="#e02222"/>
<rect x="154.1" y="235.4" width="1.1" height="1.1" fill="#e02222"/>
<rect x="98.5" y="264.7" width="1.1" height="1.1" fill="#e02222"/>
<rect x="113.5" y="245.3" width="1.1" height="1.1" fill="#e02222"/>
<rect x="154.3" y="236.1" width="1.1" height="1.1" fill="#e02222"/>
<rect x="140.4" y="238.1" width="1.1" height="1.1" fill="#e02222"/>
<rect x="107.2" y="249.3" width="1.1" height="1.1" fill="#e02222"/>
<rect x="100.2" y="261.0" width="1.1" height="1.1" fill="#e02222"/>
<rect x="144.1" y="236.8" width="1.1" height="1.1" fill="#e02222"/>
<rect x="138.9" y="234.9" width="1.1" height="1.1" fill="#e02222"/>
<rect x="137.9" y="236.1" width="1.1" height="1.1" fill="#e02222"/>
<rect x="122.8" y="241.1" width="1.1" height="1.1" fill="#e02222"/>
<rect x="100.0" y="261.2" width="1.1" height="1.1" fill="#e02222"/>
<rect x="100.4" y="260.4" width="1.1" height="1.1" fill="#e02222"/>
<rect x="124.8" y="239.8" width="1.1" height="1.1" fill="#e02222"/>
<rect x="122.4" y="242.7" width="1.1" height="1.1" fill="#e02222"/>
<rect x="116.0" y="245.7" width="1.1" height="1.1" fill="#e02222"/>
<rect x="101.1" y="259.5" width="1.1" height="1.1" fill="#e02222"/>
<rect x="102.3" y="256.9" width="1.1" height="1.1" fill="#e02222"/>
<rect x="111.7" y="246.0" width="1.1" height="1.1" fill="#e02222"/>
<rect x="134.4" y="238.2" width="1.1" height="1.1" fill="#e02222"/>
<rect x="130.6" y="239.4" width="1.1" height="1.1" fill="#e02222"/>
<rect x="133.2" y="237.1" width="1.1" height="1.1" fill="#e02222"/>
<rect x="110.2" y="250.5" width="1.1" height="1.1" fill="#e02222"/>
<rect x="131.7" y="238.6" width="1.1" height="1.1" fill="#e02222"/>
<rect x="134.1" y="238.2" width="1.1" height="1.1" fill="#e02222"/>
<rect x="104.9" y="252.5" width="1.1" height="1.1" fill="#e02222"/>
<rect x="128.4" y="238.3" width="1.1" height="1.1" fill="#e02222"/>
<rect x="122.5" y="241.1" width="1.1" height="1.1" fill="#e02222"/>
<rect x="127.9" y="238.5" width="1.1" height="1.1" fill="#e02222"/>
<rect x="132.5" y="236.1" width="1.1" height="1.1" fill="#e02222"/>
<rect x="124.8" y="238.0" width="1.1" height="1.1" fill="#e02222"/>
<rect x="107.6" y="248.1" width="1.1" height="1.1" fill="#e02222"/>
<rect x="151.7" y="234.9" width="1.1" height="1.1" fill="#e02222"/>
<rect x="114.9" y="243.0" width="1.1" height="1.1" fill="#e02222"/>
<rect x="120.3" y="242.2" width="1.1" height="1.1" fill="#e02222"/>
<rect x="101.4" y="257.0" width="1.1" height="1.1" fill="#e02222"/>
<rect x="151.2" y="236.0" width="1.1" height="1.1" fill="#e02222"/>
<rect x="135.9" y="237.4" width="1.1" height="1.1" fill="#e02222"/>
<rect x="96.0" y="270.7" width="1.1" height="1.1" fill="#e02222"/>
<rect x="98.5" y="265.6" width="1.1" height="1.1" fill="#e02222"/>
<rect x="139.7" y="235.3" width="1.1" height="1.1" fill="#e02222"/>
<rect x="139.6" y="237.1" width="1.1" height="1.1" fill="#e02222"/>
<rect x="113.5" y="244.7" width="1.1" height="1.1" fill="#e02222"/>
<rect x="110.8" y="246.4" width="1.1" height="1.1" fill="#e02222"/>
<rect x="103.9" y="254.4" width="1.1" height="1.1" fill="#e02222"/>
<rect x="138.5" y="237.9" width="1.1" height="1.1" fill="#e02222"/>
<rect x="102.6" y="258.2" width="1.1" height="1.1" fill="#e02222"/>
<rect x="124.2" y="239.7" width="1.1" height="1.1" fill="#e02222"/>
<rect x="154.0" y="234.8" width="1.1" height="1.1" fill="#e02222"/>
<rect x="112.3" y="246.9" width="1.1" height="1.1" fill="#e02222"/>
<rect x="120.2" y="242.0" width="1.1" height="1.1" fill="#e02222"/>
<rect x="107.3" y="249.4" width="1.1" height="1.1" fill="#e02222"/>
<rect x="148.5" y="234.4" width="1.1" height="1.1" fill="#e02222"/>
<rect x="154.6" y="237.1" width="1.1" height="1.1" fill="#e02222"/>
<rect x="114.0" y="243.1" width="1.1" height="1.1" fill="#e02222"/>
<rect x="137.0" y="237.7" width="1.1" height="1.1" fill="#e02222"/>
<rect x="154.2" y="233.9" width="1.1" height="1.1" fill="#e02222"/>
<rect x="106.4" y="251.2" width="1.1" height="1.1" fill="#e02222"/>
<rect x="115.5" y="245.6" width="1.1" height="1.1" fill="#e02222"/>
<rect x="144.2" y="236.7" width="1.1" height="1.1" fill="#e02222"/>
<rect x="130.8" y="237.1" width="1.1" height="1.1" fill="#e02222"/>
<rect x="143.7" y="237.3" width="1.1" height="1.1" fill="#e02222"/>
<rect x="115.5" y="244.5" width="1.1" height="1.1" fill="#e02222"/>
<rect x="131.6" y="241.0" width="1.1" height="1.1" fill="#e02222"/>
<rect x="116.8" y="242.6" width="1.1" height="1.1" fill="#e02222"/>
<rect x="133.2" y="237.5" width="1.1" height="1.1" fill="#e02222"/>
<rect x="122.7" y="240.0" width="1.1" height="1.1" fill="#e02222"/>
<rect x="131.9" y="236.3" width="1.1" height="1.1" fill="#e02222"/>
<rect x="142.3" y="237.2" width="1.1" height="1.1" fill="#e02222"/>
<rect x="100.5" y="259.4" width="1.1" height="1.1" fill="#e02222"/>
<rect x="105.6" y="253.2" width="1.1" height="1.1" fill="#e02222"/>
<rect x="99.4" y="262.8" width="1.1" height="1.1" fill="#e02222"/>
<rect x="141.3" y="237.3" width="1.1" height="1.1" fill="#e02222"/>
<rect x="123.2" y="242.0" width="1.1" height="1.1" fill="#e02222"/>
<rect x="112.3" y="247.8" width="1.1" height="1.1" fill="#e02222"/>
<rect x="143.6" y="236.8" width="1.1" height="1.1" fill="#e02222"/>
<rect x="126.4" y="238.3" width="1.1" height="1.1" fill="#e02222"/>
<rect x="102.2" y="258.2" width="1.1" height="1.1" fill="#e02222"/>
<rect x="152.0" y="233.8" width="1.1" height="1.1" fill="#e02222"/>
<rect x="127.6" y="237.3" width="1.1" height="1.1" fill="#e02222"/>
<rect x="144.5" y="235.6" width="1.1" height="1.1" fill="#e02222"/>
<rect x="134.4" y="237.5" width="1.1" height="1.1" fill="#e02222"/>
<rect x="145.2" y="238.2" width="1.1" height="1.1" fill="#e02222"/>
<rect x="106.0" y="249.5" width="1.1" height="1.1" fill="#e02222"/>
<rect x="132.2" y="237.1" width="1.1" height="1.1" fill="#e02222"/>
<rect x="100.9" y="256.7" width="1.1" height="1.1" fill="#e02222"/>
<rect x="101.8" y="255.2" width="1.1" height="1.1" fill="#e02222"/>
<rect x="150.5" y="237.3" width="1.1" height="1.1" fill="#e02222"/>
<rect x="132.7" y="236.8" width="1.1" height="1.1" fill="#e02222"/>
<rect x="113.6" y="243.3" width="1.1" height="1.1" fill="#e02222"/>
<rect x="116.7" y="243.4" width="1.1" height="1.1" fill="#e02222"/>
<rect x="132.9" y="237.3" width="1.1" height="1.1" fill="#e02222"/>
<rect x="149.8" y="235.0" width="1.1" height="1.1" fill="#e02222"/>
<rect x="109.4" y="247.0" width="1.1" height="1.1" fill="#e02222"/>
<rect x="98.3" y="265.3" width="1.1" height="1.1" fill="#e02222"/>
<rect x="140.5" y="237.5" width="1.1" height="1.1" fill="#e02222"/>
<rect x="102.2" y="255.6" width="1.1" height="1.1" fill="#e02222"/>
<rect x="118.7" y="242.2" width="1.1" height="1.1" fill="#e02222"/>
<rect x="104.5" y="251.7" width="1.1" height="1.1" fill="#e02222"/>
<rect x="117.1" y="243.1" width="1.1" height="1.1" fill="#e02222"/>
<rect x="149.1" y="234.4" width="1.1" height="1.1" fill="#e02222"/>
<rect x="138.6" y="237.9" width="1.1" height="1.1" fill="#e02222"/>
<rect x="134.8" y="238.7" width="1.1" height="1.1" fill="#e02222"/>
<rect x="145.7" y="238.7" width="1.1" height="1.1" fill="#e02222"/>
<rect x="150.6" y="235.8" width="1.1" height="1.1" fill="#e02222"/>
<rect x="120.2" y="242.4" width="1.1" height="1.1" fill="#e02222"/>
<rect x="120.3" y="240.9" width="1.1" height="1.1" fill="#e02222"/>
<rect x="150.1" y="235.5" width="1.1" height="1.1" fill="#e02222"/>
<rect x="102.8" y="254.6" width="1.1" height="1.1" fill="#e02222"/>
<rect x="143.2" y="237.0" width="1.1" height="1.1" fill="#e02222"/>
<rect x="112.0" y="245.4" width="1.1" height="1.1" fill="#e02222"/>
<rect x="133.4" y="235.9" width="1.1" height="1.1" fill="#e02222"/>
<rect x="112.1" y="246.5" width="1.1" height="1.1" fill="#e02222"/>
<rect x="104.4" y="253.8" width="1.1" height="1.1" fill="#e02222"/>
<rect x="137.4" y="236.5" width="1.1" height="1.1" fill="#e02222"/>
<rect x="131.3" y="237.9" width="1.1" height="1.1" fill="#e02222"/>
<rect x="125.4" y="237.5" width="1.1" height="1.1" fill="#e02222"/>
<rect x="116.9" y="242.2" width="1.1" height="1.1" fill="#e02222"/>
<rect x="108.9" y="247.5" width="1.1" height="1.1" fill="#e02222"/>
<rect x="105.3" y="253.5" width="1.1" height="1.1" fill="#e02222"/>
<rect x="104.2" y="252.9" width="1.1" height="1.1" fill="#e02222"/>
<rect x="130.0" y="240.2" width="1.1" height="1.1" fill="#e02222"/>
<rect x="111.7" y="246.2" width="1.1" height="1.1" fill="#e02222"/>
<rect x="103.3" y="254.8" width="1.1" height="1.1" fill="#e02222"/>
<rect x="123.4" y="239.4" width="1.1" height="1.1" fill="#e02222"/>
<rect x="132.6" y="238.5" width="1.1" height="1.1" fill="#e02222"/>
<rect x="125.2" y="242.1" width="1.1" height="1.1" fill="#e02222"/>
<rect x="103.3" y="253.9" width="1.1" height="1.1" fill="#e02222"/>
<rect x="104.2" y="255.0" width="1.1" height="1.1" fill="#e02222"/>
<rect x="127.3" y="237.1" width="1.1" height="1.1" fill="#e02222"/>
<rect x="154.1" y="235.3" width="1.1" height="1.1" fill="#e02222"/>
<rect x="105.7" y="251.0" width="0.8" height="0.8" fill="#f6dada"/>
<rect x="138.7" y="237.8" width="0.8" height="0.8" fill="#f6dada"/>
<rect x="126.2" y="237.6" width="0.8" height="0.8" fill="#f6dada"/>
<rect x="135.4" y="238.3" width="0.8" height="0.8" fill="#f6dada"/>
<rect x="140.6" y="236.3" width="0.8" height="0.8" fill="#f6dada"/>
<rect x="119.1" y="242.1" width="0.8" height="0.8" fill="#f6dada"/>
<rect x="150.2" y="236.6" width="0.8" height="0.8" fill="#f6dada"/>
<rect x="146.3" y="235.7" width="0.8" height="0.8" fill="#f6dada"/>
<rect x="110.5" y="247.9" width="0.8" height="0.8" fill="#f6dada"/>
<rect x="127.4" y="238.2" width="0.8" height="0.8" fill="#f6dada"/>
<rect x="109.7" y="249.6" width="0.8" height="0.8" fill="#f6dada"/>
<rect x="152.0" y="235.3" width="0.8" height="0.8" fill="#f6dada"/>
<rect x="110.1" y="247.2" width="0.8" height="0.8" fill="#f6dada"/>
<rect x="131.2" y="238.3" width="0.8" height="0.8" fill="#f6dada"/>
<rect x="146.2" y="236.3" width="0.8" height="0.8" fill="#f6dada"/>
<rect x="128.1" y="239.7" width="0.8" height="0.8" fill="#f6dada"/>
<rect x="149.4" y="234.4" width="0.8" height="0.8" fill="#f6dada"/>
<rect x="134.7" y="238.6" width="0.8" height="0.8" fill="#f6dada"/>
<rect x="108.7" y="249.5" width="0.8" height="0.8" fill="#f6dada"/>
<rect x="116.1" y="243.5" width="0.8" height="0.8" fill="#f6dada"/>
<rect x="113.8" y="244.6" width="0.8" height="0.8" fill="#f6dada"/>
<rect x="139.5" y="237.8" width="0.8" height="0.8" fill="#f6dada"/>
<rect x="132.3" y="237.9" width="0.8" height="0.8" fill="#f6dada"/>
<rect x="142.2" y="236.4" width="0.8" height="0.8" fill="#f6dada"/>
<rect x="102.9" y="256.6" width="0.8" height="0.8" fill="#f6dada"/>
<rect x="102.7" y="255.9" width="0.8" height="0.8" fill="#f6dada"/>
<rect x="100.1" y="261.6" width="0.8" height="0.8" fill="#f6dada"/>
<rect x="126.3" y="239.0" width="0.8" height="0.8" fill="#f6dada"/>
<rect x="119.9" y="242.0" width="0.8" height="0.8" fill="#f6dada"/>
<rect x="134.2" y="239.4" width="0.8" height="0.8" fill="#f6dada"/>
<rect x="146.8" y="235.6" width="0.8" height="0.8" fill="#f6dada"/>
<rect x="148.9" y="235.8" width="0.8" height="0.8" fill="#f6dada"/>
<rect x="120.2" y="243.0" width="0.8" height="0.8" fill="#f6dada"/>
<rect x="100.0" y="262.1" width="0.8" height="0.8" fill="#f6dada"/>
<rect x="108.0" y="250.6" width="0.8" height="0.8" fill="#f6dada"/>
<rect x="143.6" y="234.3" width="0.8" height="0.8" fill="#f6dada"/>
<rect x="137.8" y="235.7" width="0.8" height="0.8" fill="#f6dada"/>
<rect x="135.5" y="239.7" width="0.8" height="0.8" fill="#f6dada"/>
<rect x="102.9" y="254.4" width="0.8" height="0.8" fill="#f6dada"/>
<rect x="102.7" y="255.8" width="0.8" height="0.8" fill="#f6dada"/>
<rect x="134.1" y="237.3" width="0.8" height="0.8" fill="#f6dada"/>
<rect x="103.5" y="254.6" width="0.8" height="0.8" fill="#f6dada"/>
<rect x="134.6" y="237.7" width="0.8" height="0.8" fill="#f6dada"/>
<rect x="106.5" y="249.0" width="0.8" height="0.8" fill="#f6dada"/>
<rect x="145.7" y="236.9" width="0.8" height="0.8" fill="#f6dada"/>
<rect x="139.6" y="235.8" width="0.8" height="0.8" fill="#f6dada"/>
<rect x="147.3" y="234.8" width="0.8" height="0.8" fill="#f6dada"/>
<rect x="110.6" y="246.3" width="0.8" height="0.8" fill="#f6dada"/>
<rect x="133.7" y="238.7" width="0.8" height="0.8" fill="#f6dada"/>
<rect x="130.8" y="238.8" width="0.8" height="0.8" fill="#f6dada"/>
<rect x="115.7" y="244.8" width="0.8" height="0.8" fill="#f6dada"/>
<rect x="100.2" y="261.1" width="0.8" height="0.8" fill="#f6dada"/>
<rect x="123.3" y="240.8" width="0.8" height="0.8" fill="#f6dada"/>
<rect x="144.1" y="236.2" width="0.8" height="0.8" fill="#f6dada"/>
<rect x="147.1" y="236.0" width="0.8" height="0.8" fill="#f6dada"/>
<rect x="118.7" y="244.0" width="0.8" height="0.8" fill="#f6dada"/>
<rect x="133.6" y="238.3" width="0.8" height="0.8" fill="#f6dada"/>
<rect x="109.2" y="247.7" width="0.8" height="0.8" fill="#f6dada"/>
<rect x="151.0" y="235.2" width="0.8" height="0.8" fill="#f6dada"/>
<rect x="152.1" y="235.0" width="0.8" height="0.8" fill="#f6dada"/>
<rect x="135.1" y="236.7" width="0.8" height="0.8" fill="#f6dada"/>
<rect x="144.8" y="235.2" width="0.8" height="0.8" fill="#f6dada"/>
<rect x="140.9" y="237.3" width="0.8" height="0.8" fill="#f6dada"/>
<rect x="153.3" y="235.0" width="0.8" height="0.8" fill="#f6dada"/>
<rect x="129.0" y="239.7" width="0.8" height="0.8" fill="#f6dada"/>
<rect x="120.7" y="242.7" width="0.8" height="0.8" fill="#f6dada"/>
<rect x="128.1" y="239.5" width="0.8" height="0.8" fill="#f6dada"/>
<rect x="136.1" y="236.3" width="0.8" height="0.8" fill="#f6dada"/>
<rect x="101.2" y="260.0" width="0.8" height="0.8" fill="#f6dada"/>
<rect x="148.6" y="235.4" width="0.8" height="0.8" fill="#f6dada"/>
<text x="173.6" y="213.5" font-size="7.3" font-weight="bold" text-anchor="middle" fill="#222">PRT060318</text>
<text x="173.6" y="222.7" font-size="7.3" font-weight="bold" text-anchor="middle" fill="#222">(nM)</text>
<text x="171.5" y="232.7" font-size="7.3" font-weight="bold" text-anchor="start" fill="#222">0</text>
<rect x="161" y="229.5" width="1.2" height="1.2" fill="#d9a0a0"/>
<text x="171.5" y="238.9" font-size="7.3" font-weight="bold" text-anchor="start" fill="#222">3</text>
<rect x="161" y="235.70000000000002" width="1.2" height="1.2" fill="#c87070"/>
<text x="171.5" y="245.1" font-size="7.3" font-weight="bold" text-anchor="start" fill="#222">12</text>
<rect x="161" y="241.9" width="1.2" height="1.2" fill="#222"/>
<text x="171.5" y="260.8" font-size="7.3" font-weight="bold" text-anchor="start" fill="#222">37</text>
<rect x="161" y="257.59999999999997" width="1.2" height="1.2" fill="#8888cc"/>
<text x="171.5" y="289.1" font-size="6.6" font-weight="bold" text-anchor="start" fill="#222">110</text>
<rect x="161" y="285.9" width="1.2" height="1.2" fill="#bbb"/>
<text x="171.5" y="294.6" font-size="6.6" font-weight="bold" text-anchor="start" fill="#222">330</text>
<rect x="161" y="291.4" width="1.2" height="1.2" fill="#555"/>
<text x="171.5" y="300.5" font-size="6.6" font-weight="bold" text-anchor="start" fill="#222">1000</text>
<rect x="161" y="297.29999999999995" width="1.2" height="1.2" fill="#bbb"/>
<text x="171.5" y="306.20000000000005" font-size="6.6" font-weight="bold" text-anchor="start" fill="#222">3000</text>
<rect x="161" y="303.0" width="1.2" height="1.2" fill="#bbb"/>
<text x="209.6" y="195.9" font-size="11.5" font-weight="bold" text-anchor="start" fill="#111">D</text>
<line x1="240.2" y1="222" x2="240.2" y2="301.2" stroke="#111" stroke-width="1"/>
<line x1="240.2" y1="300.7" x2="354" y2="300.7" stroke="#111" stroke-width="1.2"/>
<line x1="238.2" y1="222.8" x2="240.2" y2="222.8" stroke="#111" stroke-width="1"/>
<text x="235.39999999999998" y="225.3" font-size="7.0" font-weight="bold" text-anchor="end" fill="#111">4</text>
<line x1="238.2" y1="242.2" x2="240.2" y2="242.2" stroke="#111" stroke-width="1"/>
<text x="235.39999999999998" y="244.7" font-size="7.0" font-weight="bold" text-anchor="end" fill="#111">3</text>
<line x1="238.2" y1="261.7" x2="240.2" y2="261.7" stroke="#111" stroke-width="1"/>
<text x="235.39999999999998" y="264.2" font-size="7.0" font-weight="bold" text-anchor="end" fill="#111">2</text>
<line x1="238.2" y1="281.2" x2="240.2" y2="281.2" stroke="#111" stroke-width="1"/>
<text x="235.39999999999998" y="283.7" font-size="7.0" font-weight="bold" text-anchor="end" fill="#111">1</text>
<line x1="238.2" y1="300.6" x2="240.2" y2="300.6" stroke="#111" stroke-width="1"/>
<text x="235.39999999999998" y="303.1" font-size="7.0" font-weight="bold" text-anchor="end" fill="#111">0</text>
<path d="M242.9 216.7 L242.9 211.2 L327.2 211.2 L327.2 216.7" fill="none" stroke="#777" stroke-width="0.9"/>
<text x="253.8" y="224.0" font-size="7.1" font-weight="bold" text-anchor="start" fill="#111" letter-spacing="0.17">IC<tspan font-size="4.6" dy="1.6">50</tspan><tspan dy="-1.6"> = 1.5 ± 0.1 µM</tspan></text>
<line x1="247.5" y1="232.7" x2="247.5" y2="243.4" stroke="#222" stroke-width="0.9"/>
<line x1="245.5" y1="232.7" x2="249.5" y2="232.7" stroke="#222" stroke-width="0.9"/>
<rect x="243.7" y="243.4" width="7.6000000000000005" height="57.29999999999998" fill="#fff" stroke="#333" stroke-width="0.8"/>
<line x1="258.5" y1="233.4" x2="258.5" y2="243.7" stroke="#222" stroke-width="0.9"/>
<line x1="256.5" y1="233.4" x2="260.5" y2="233.4" stroke="#222" stroke-width="0.9"/>
<rect x="254.7" y="243.7" width="7.6000000000000005" height="57.0" fill="#000" stroke="#333" stroke-width="0.8"/>
<line x1="269.5" y1="238.6" x2="269.5" y2="247" stroke="#222" stroke-width="0.9"/>
<line x1="267.5" y1="238.6" x2="271.5" y2="238.6" stroke="#222" stroke-width="0.9"/>
<rect x="265.7" y="247" width="7.6000000000000005" height="53.69999999999999" fill="#000" stroke="#333" stroke-width="0.8"/>
<line x1="280.5" y1="245.4" x2="280.5" y2="255.3" stroke="#222" stroke-width="0.9"/>
<line x1="278.5" y1="245.4" x2="282.5" y2="245.4" stroke="#222" stroke-width="0.9"/>
<rect x="276.7" y="255.3" width="7.6000000000000005" height="45.39999999999998" fill="#000" stroke="#333" stroke-width="0.8"/>
<line x1="291.5" y1="259.5" x2="291.5" y2="266.8" stroke="#222" stroke-width="0.9"/>
<line x1="289.5" y1="259.5" x2="293.5" y2="259.5" stroke="#222" stroke-width="0.9"/>
<rect x="287.7" y="266.8" width="7.6000000000000005" height="33.89999999999998" fill="#000" stroke="#333" stroke-width="0.8"/>
<line x1="302.5" y1="284.2" x2="302.5" y2="288.2" stroke="#222" stroke-width="0.9"/>
<line x1="300.5" y1="284.2" x2="304.5" y2="284.2" stroke="#222" stroke-width="0.9"/>
<rect x="298.7" y="288.2" width="7.6000000000000005" height="12.5" fill="#000" stroke="#333" stroke-width="0.8"/>
<line x1="313.5" y1="290.8" x2="313.5" y2="294" stroke="#222" stroke-width="0.9"/>
<line x1="311.5" y1="290.8" x2="315.5" y2="290.8" stroke="#222" stroke-width="0.9"/>
<rect x="309.7" y="294" width="7.6000000000000005" height="6.699999999999989" fill="#000" stroke="#333" stroke-width="0.8"/>
<line x1="324.5" y1="295.4" x2="324.5" y2="298.4" stroke="#222" stroke-width="0.9"/>
<line x1="322.5" y1="295.4" x2="326.5" y2="295.4" stroke="#222" stroke-width="0.9"/>
<rect x="320.7" y="298.4" width="7.6000000000000005" height="2.3000000000000114" fill="#000" stroke="#333" stroke-width="0.8"/>
<line x1="335.5" y1="275.5" x2="335.5" y2="283.9" stroke="#222" stroke-width="0.9"/>
<line x1="333.5" y1="275.5" x2="337.5" y2="275.5" stroke="#222" stroke-width="0.9"/>
<rect x="331.7" y="283.9" width="7.6000000000000005" height="16.80000000000001" fill="#c4c4c4" stroke="#333" stroke-width="0.8"/>
<line x1="346.5" y1="265.8" x2="346.5" y2="282.1" stroke="#222" stroke-width="0.9"/>
<line x1="344.5" y1="265.8" x2="348.5" y2="265.8" stroke="#222" stroke-width="0.9"/>
<rect x="342.7" y="282.1" width="7.6000000000000005" height="18.599999999999966" fill="#c4c4c4" stroke="#333" stroke-width="0.8"/>
<text x="250.3" y="304.5" font-size="7.7" font-weight="normal" text-anchor="end" fill="#222" transform="rotate(-90 250.3 304.5)">0</text>
<text x="261.3" y="304.5" font-size="7.7" font-weight="normal" text-anchor="end" fill="#222" transform="rotate(-90 261.3 304.5)">0.04</text>
<text x="272.3" y="304.5" font-size="7.7" font-weight="normal" text-anchor="end" fill="#222" transform="rotate(-90 272.3 304.5)">0.12</text>
<text x="283.3" y="304.5" font-size="7.7" font-weight="normal" text-anchor="end" fill="#222" transform="rotate(-90 283.3 304.5)">0.37</text>
<text x="294.3" y="304.5" font-size="7.7" font-weight="normal" text-anchor="end" fill="#222" transform="rotate(-90 294.3 304.5)">1.1</text>
<text x="305.3" y="304.5" font-size="7.7" font-weight="normal" text-anchor="end" fill="#222" transform="rotate(-90 305.3 304.5)">3.3</text>
<text x="316.3" y="304.5" font-size="7.7" font-weight="normal" text-anchor="end" fill="#222" transform="rotate(-90 316.3 304.5)">10</text>
<text x="327.3" y="304.5" font-size="7.7" font-weight="normal" text-anchor="end" fill="#222" transform="rotate(-90 327.3 304.5)">30</text>
<text x="338.3" y="304.5" font-size="7.7" font-weight="normal" text-anchor="end" fill="#222" transform="rotate(-90 338.3 304.5)">Ept. (2.5 µM)</text>
<text x="349.3" y="304.5" font-size="7.7" font-weight="normal" text-anchor="end" fill="#222" transform="rotate(-90 349.3 304.5)">Indom. (10 µM)</text>
<text x="286.5" y="337.8" font-size="8.3" font-weight="bold" text-anchor="middle" fill="#222">PRT060318 (µM)</text>
<text x="222.5" y="260.5" font-size="8.3" font-weight="bold" text-anchor="middle" fill="#111" transform="rotate(-90 222.5 260.5)">CD40L release (ng/ml)</text>
<text x="369.0" y="196.1" font-size="11.5" font-weight="bold" text-anchor="start" fill="#111">E</text>
<line x1="403.3" y1="215" x2="403.3" y2="302.0" stroke="#111" stroke-width="1"/>
<line x1="403.3" y1="301.5" x2="518" y2="301.5" stroke="#111" stroke-width="1.2"/>
<line x1="401.3" y1="216" x2="403.3" y2="216" stroke="#111" stroke-width="1"/>
<text x="398.5" y="217.8" font-size="6.5" font-weight="bold" text-anchor="end" fill="#111">1500</text>
<line x1="401.3" y1="243" x2="403.3" y2="243" stroke="#111" stroke-width="1"/>
<text x="398.5" y="244.8" font-size="6.5" font-weight="bold" text-anchor="end" fill="#111">1000</text>
<line x1="401.3" y1="270.1" x2="403.3" y2="270.1" stroke="#111" stroke-width="1"/>
<text x="398.5" y="271.90000000000003" font-size="6.5" font-weight="bold" text-anchor="end" fill="#111">500</text>
<line x1="401.3" y1="297.2" x2="403.3" y2="297.2" stroke="#111" stroke-width="1"/>
<text x="398.5" y="299.0" font-size="6.5" font-weight="bold" text-anchor="end" fill="#111">0</text>
<path d="M406.5 217.4 L406.5 211.9 L489.5 211.9 L489.5 217.4" fill="none" stroke="#777" stroke-width="0.9"/>
<text x="418.3" y="223.1" font-size="7.1" font-weight="bold" text-anchor="start" fill="#111" letter-spacing="0.17">IC<tspan font-size="4.6" dy="1.6">50</tspan><tspan dy="-1.6"> = 1.4 ± 0.3 µM</tspan></text>
<line x1="410.6" y1="258" x2="410.6" y2="259.1" stroke="#222" stroke-width="0.9"/>
<line x1="408.6" y1="258" x2="412.6" y2="258" stroke="#222" stroke-width="0.9"/>
<rect x="407.0" y="259.1" width="7.1000000000000005" height="38.599999999999966" fill="#fff" stroke="#333" stroke-width="0.8"/>
<line x1="421.6" y1="258.9" x2="421.6" y2="260.2" stroke="#222" stroke-width="0.9"/>
<line x1="419.6" y1="258.9" x2="423.6" y2="258.9" stroke="#222" stroke-width="0.9"/>
<rect x="418.1" y="260.2" width="7.1000000000000005" height="37.5" fill="#000" stroke="#333" stroke-width="0.8"/>
<line x1="432.7" y1="259.3" x2="432.7" y2="262.7" stroke="#222" stroke-width="0.9"/>
<line x1="430.7" y1="259.3" x2="434.7" y2="259.3" stroke="#222" stroke-width="0.9"/>
<rect x="429.1" y="262.7" width="7.1000000000000005" height="35.0" fill="#000" stroke="#333" stroke-width="0.8"/>
<line x1="443.7" y1="265.5" x2="443.7" y2="273.9" stroke="#222" stroke-width="0.9"/>
<line x1="441.7" y1="265.5" x2="445.7" y2="265.5" stroke="#222" stroke-width="0.9"/>
<rect x="440.2" y="273.9" width="7.1000000000000005" height="23.80000000000001" fill="#000" stroke="#333" stroke-width="0.8"/>
<line x1="454.8" y1="270" x2="454.8" y2="272.7" stroke="#222" stroke-width="0.9"/>
<line x1="452.8" y1="270" x2="456.8" y2="270" stroke="#222" stroke-width="0.9"/>
<rect x="451.2" y="272.7" width="7.1000000000000005" height="25.0" fill="#000" stroke="#333" stroke-width="0.8"/>
<line x1="465.9" y1="284.1" x2="465.9" y2="287.4" stroke="#222" stroke-width="0.9"/>
<line x1="463.9" y1="284.1" x2="467.9" y2="284.1" stroke="#222" stroke-width="0.9"/>
<rect x="462.3" y="287.4" width="7.1000000000000005" height="10.300000000000011" fill="#000" stroke="#333" stroke-width="0.8"/>
<line x1="476.9" y1="293.8" x2="476.9" y2="295" stroke="#222" stroke-width="0.9"/>
<line x1="474.9" y1="293.8" x2="478.9" y2="293.8" stroke="#222" stroke-width="0.9"/>
<rect x="473.4" y="295" width="7.1000000000000005" height="2.6999999999999886" fill="#000" stroke="#333" stroke-width="0.8"/>
<line x1="488.0" y1="296.6" x2="488.0" y2="297.2" stroke="#222" stroke-width="0.9"/>
<line x1="486.0" y1="296.6" x2="490.0" y2="296.6" stroke="#222" stroke-width="0.9"/>
<rect x="484.4" y="297.2" width="7.1000000000000005" height="0.5" fill="#000" stroke="#333" stroke-width="0.8"/>
<line x1="499.0" y1="217.6" x2="499.0" y2="242.8" stroke="#222" stroke-width="0.9"/>
<line x1="497.0" y1="217.6" x2="501.0" y2="217.6" stroke="#222" stroke-width="0.9"/>
<rect x="495.5" y="242.8" width="7.1000000000000005" height="54.89999999999998" fill="#c4c4c4" stroke="#333" stroke-width="0.8"/>
<line x1="510.1" y1="258.5" x2="510.1" y2="267.6" stroke="#222" stroke-width="0.9"/>
<line x1="508.1" y1="258.5" x2="512.1" y2="258.5" stroke="#222" stroke-width="0.9"/>
<rect x="506.5" y="267.6" width="7.1000000000000005" height="30.099999999999966" fill="#c4c4c4" stroke="#333" stroke-width="0.8"/>
<text x="413.4" y="308.2" font-size="7.7" font-weight="normal" text-anchor="end" fill="#222" transform="rotate(-90 413.4 308.2)">0</text>
<text x="424.4" y="308.2" font-size="7.7" font-weight="normal" text-anchor="end" fill="#222" transform="rotate(-90 424.4 308.2)">0.04</text>
<text x="435.5" y="308.2" font-size="7.7" font-weight="normal" text-anchor="end" fill="#222" transform="rotate(-90 435.5 308.2)">0.12</text>
<text x="446.5" y="308.2" font-size="7.7" font-weight="normal" text-anchor="end" fill="#222" transform="rotate(-90 446.5 308.2)">0.37</text>
<text x="457.6" y="308.2" font-size="7.7" font-weight="normal" text-anchor="end" fill="#222" transform="rotate(-90 457.6 308.2)">1.1</text>
<text x="468.7" y="308.2" font-size="7.7" font-weight="normal" text-anchor="end" fill="#222" transform="rotate(-90 468.7 308.2)">3.3</text>
<text x="479.7" y="308.2" font-size="7.7" font-weight="normal" text-anchor="end" fill="#222" transform="rotate(-90 479.7 308.2)">10</text>
<text x="490.8" y="308.2" font-size="7.7" font-weight="normal" text-anchor="end" fill="#222" transform="rotate(-90 490.8 308.2)">30</text>
<text x="501.8" y="308.2" font-size="7.7" font-weight="normal" text-anchor="end" fill="#222" transform="rotate(-90 501.8 308.2)">Ept. (2.5 µM)</text>
<text x="512.9" y="308.2" font-size="7.7" font-weight="normal" text-anchor="end" fill="#222" transform="rotate(-90 512.9 308.2)">Indom. (10 µM)</text>
<text x="446.6" y="337" font-size="8.3" font-weight="bold" text-anchor="middle" fill="#222">PRT060318 (µM)</text>
<text x="377.3" y="260" font-size="8.3" font-weight="bold" text-anchor="middle" fill="#111" transform="rotate(-90 377.3 260)">RANTES release (pg/ml)</text>
</svg></body></html>
